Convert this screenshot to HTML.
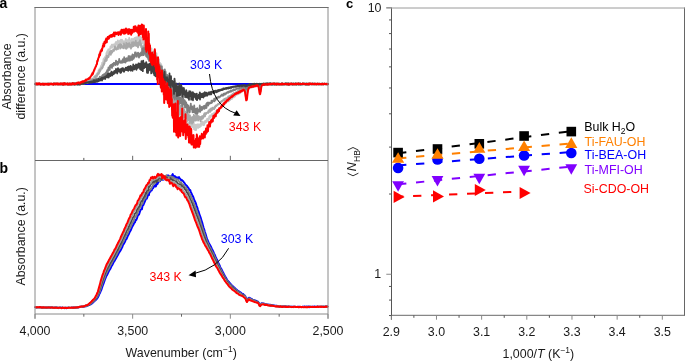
<!DOCTYPE html><html><head><meta charset="utf-8"><style>html,body{margin:0;padding:0;background:#fff;}svg{display:block;will-change:transform;}text{font-family:"Liberation Sans", sans-serif;}</style></head><body>
<svg width="685" height="361" viewBox="0 0 685 361">
<rect width="685" height="361" fill="#fff"/>
<g fill="none" stroke-linejoin="round" stroke-linecap="round">
<path d="M35.5,84.00L327.5,84.00" stroke="#0000ff" stroke-width="2"/>
<path d="M35.5,84.0L35.8,83.9 36.0,84.1 36.2,84.2 36.5,84.1 36.8,84.2 37.0,84.0 37.2,83.7 37.5,84.1 37.8,84.1 38.0,83.9 38.2,83.9 38.5,84.0 38.8,84.2 39.0,84.0 39.2,83.8 39.5,84.3 39.8,84.1 40.0,84.4 40.2,84.3 40.5,84.4 40.8,84.1 41.0,84.3 41.2,83.9 41.5,84.0 41.8,84.0 42.0,84.5 42.2,84.1 42.5,84.0 42.8,84.0 43.0,84.4 43.2,84.1 43.5,84.2 43.8,84.2 44.0,83.8 44.2,84.2 44.5,84.0 44.8,83.8 45.0,84.1 45.2,84.0 45.5,84.0 45.8,84.0 46.0,84.3 46.2,84.0 46.5,83.7 46.8,84.4 47.0,83.8 47.2,84.0 47.5,84.2 47.8,83.5 48.0,83.8 48.2,84.3 48.5,84.0 48.8,83.9 49.0,84.0 49.2,83.8 49.5,84.0 49.8,83.8 50.0,83.6 50.2,84.2 50.5,83.9 50.8,84.1 51.0,84.0 51.2,84.3 51.5,84.1 51.8,84.0 52.0,83.8 52.2,83.7 52.5,84.3 52.8,84.2 53.0,83.8 53.2,84.5 53.5,84.1 53.8,84.0 54.0,83.7 54.2,83.8 54.5,84.1 54.8,84.1 55.0,84.1 55.2,83.6 55.5,84.1 55.8,84.1 56.0,83.9 56.2,84.0 56.5,84.1 56.8,84.3 57.0,84.0 57.2,84.1 57.5,83.7 57.8,83.8 58.0,84.0 58.2,83.8 58.5,84.1 58.8,83.7 59.0,84.0 59.2,83.8 59.5,84.3 59.8,83.9 60.0,84.4 60.2,84.5 60.5,84.1 60.8,84.2 61.0,84.0 61.2,83.4 61.5,84.2 61.8,84.2 62.0,83.9 62.2,83.9 62.5,84.0 62.8,84.1 63.0,83.8 63.2,83.9 63.5,84.3 63.8,84.0 64.0,84.0 64.2,84.3 64.5,83.9 64.8,84.2 65.0,83.7 65.2,83.9 65.5,84.0 65.8,84.2 66.0,84.0 66.2,84.6 66.5,84.3 66.8,83.9 67.0,84.6 67.2,83.8 67.5,84.5 67.8,83.8 68.0,84.2 68.2,83.8 68.5,84.0 68.8,84.4 69.0,83.6 69.2,83.6 69.5,84.0 69.8,84.1 70.0,84.0 70.2,84.3 70.5,83.7 70.8,84.2 71.0,84.0 71.2,84.2 71.5,84.2 71.8,84.4 72.0,83.6 72.2,84.0 72.5,83.7 72.8,84.0 73.0,84.2 73.2,84.1 73.5,84.2 73.8,84.0 74.0,84.1 74.2,84.1 74.5,84.4 74.8,84.2 75.0,83.5 75.2,84.2 75.5,84.3 75.8,83.9 76.0,83.6 76.2,84.4 76.5,84.1 76.8,84.2 77.0,84.5 77.2,83.8 77.5,84.0 77.8,84.0 78.0,84.2 78.2,83.9 78.5,84.2 78.8,84.0 79.0,84.3 79.2,84.3 79.5,83.5 79.8,84.0 80.0,83.7 80.2,83.8 80.5,83.9 80.8,83.8 81.0,83.4 81.2,83.7 81.5,83.5 81.8,83.4 82.0,83.0 82.2,83.1 82.5,83.1 82.8,83.3 83.0,83.5 83.2,82.7 83.5,82.6 83.8,82.9 84.0,82.6 84.2,82.5 84.5,82.4 84.8,82.3 85.0,82.6 85.2,82.0 85.5,82.7 85.8,82.0 86.0,82.0 86.2,81.8 86.5,81.4 86.8,81.5 87.0,82.2 87.2,82.3 87.5,81.4 87.8,81.9 88.0,81.5 88.2,81.1 88.5,81.8 88.8,81.8 89.0,80.9 89.2,80.9 89.5,80.8 89.8,80.6 90.0,80.8 90.2,80.9 90.5,80.3 90.8,80.4 91.0,80.5 91.2,79.6 91.5,79.6 91.8,79.2 92.0,79.6 92.2,79.3 92.5,79.3 92.8,79.0 93.0,78.3 93.2,78.6 93.5,77.8 93.8,77.6 94.0,76.4 94.2,78.0 94.5,76.5 94.8,76.8 95.0,76.5 95.2,77.1 95.5,76.2 95.8,75.2 96.0,75.3 96.2,74.9 96.5,74.8 96.8,73.4 97.0,73.9 97.2,75.0 97.5,73.5 97.8,74.1 98.0,73.8 98.2,72.2 98.5,70.3 98.8,70.9 99.0,71.4 99.2,70.8 99.5,68.6 99.8,68.9 100.0,68.6 100.2,68.2 100.5,67.6 100.8,66.4 101.0,66.1 101.2,65.8 101.5,66.4 101.8,64.4 102.0,65.0 102.2,62.7 102.5,64.3 102.8,62.7 103.0,62.0 103.2,62.6 103.5,59.1 103.8,58.8 104.0,60.1 104.2,58.3 104.5,58.1 104.8,60.0 105.0,57.1 105.2,56.9 105.5,56.3 105.8,56.9 106.0,55.6 106.2,54.9 106.5,53.0 106.8,53.4 107.0,53.3 107.2,51.1 107.5,52.9 107.8,52.3 108.0,53.5 108.2,49.4 108.5,49.7 108.8,49.4 109.0,49.3 109.2,49.5 109.5,49.1 109.8,49.3 110.0,48.9 110.2,48.3 110.5,46.3 110.8,47.1 111.0,47.5 111.2,47.8 111.5,47.7 111.8,44.7 112.0,45.8 112.2,46.1 112.5,46.4 112.8,47.2 113.0,45.7 113.2,44.4 113.5,45.8 113.8,45.4 114.0,45.3 114.2,44.7 114.5,46.8 114.8,44.9 115.0,45.6 115.2,43.2 115.5,45.3 115.8,43.4 116.0,42.0 116.2,44.3 116.5,44.6 116.8,43.4 117.0,43.6 117.2,44.8 117.5,42.7 117.8,40.5 118.0,43.5 118.2,43.3 118.5,44.4 118.8,42.4 119.0,44.5 119.2,44.2 119.5,40.9 119.8,43.8 120.0,41.0 120.2,40.3 120.5,42.0 120.8,41.6 121.0,39.6 121.2,42.5 121.5,43.0 121.8,44.1 122.0,42.1 122.2,40.0 122.5,40.7 122.8,43.3 123.0,43.2 123.2,42.7 123.5,41.5 123.8,42.2 124.0,41.5 124.2,41.4 124.5,42.2 124.8,41.8 125.0,41.4 125.2,41.8 125.5,40.9 125.8,38.9 126.0,40.7 126.2,41.5 126.5,44.0 126.8,40.9 127.0,44.4 127.2,43.5 127.5,40.1 127.8,40.3 128.0,41.6 128.2,43.9 128.5,41.8 128.8,42.3 129.0,40.2 129.2,37.9 129.5,40.8 129.8,42.2 130.0,42.8 130.2,41.0 130.5,41.2 130.8,42.6 131.0,40.6 131.2,42.5 131.5,38.8 131.8,38.8 132.0,38.7 132.2,41.1 132.5,39.4 132.8,40.3 133.0,40.6 133.2,40.5 133.5,41.9 133.8,42.0 134.0,38.4 134.2,39.9 134.5,39.1 134.8,37.8 135.0,42.1 135.2,40.5 135.5,38.9 135.8,38.5 136.0,39.7 136.2,37.2 136.5,38.6 136.8,41.2 137.0,40.7 137.2,37.5 137.5,38.1 137.8,42.7 138.0,36.5 138.2,38.0 138.5,36.5 138.8,40.0 139.0,39.9 139.2,41.7 139.5,35.0 139.8,39.9 140.0,36.2 140.2,41.1 140.5,39.5 140.8,43.7 141.0,40.9 141.2,37.8 141.5,43.1 141.8,37.8 142.0,39.7 142.2,43.2 142.5,42.0 142.8,42.1 143.0,41.3 143.2,42.8 143.5,43.7 143.8,42.6 144.0,44.7 144.2,45.7 144.5,42.6 144.8,40.4 145.0,47.1 145.2,43.2 145.5,45.3 145.8,46.5 146.0,41.7 146.2,45.9 146.5,40.5 146.8,47.3 147.0,44.3 147.2,46.5 147.5,48.4 147.8,44.8 148.0,47.4 148.2,45.5 148.5,47.8 148.8,51.5 149.0,48.8 149.2,48.7 149.5,46.2 149.8,52.5 150.0,50.1 150.2,56.0 150.5,48.6 150.8,54.7 151.0,57.6 151.2,52.1 151.5,48.5 151.8,57.9 152.0,56.8 152.2,56.1 152.5,57.8 152.8,52.9 153.0,57.6 153.2,57.7 153.5,53.4 153.8,58.7 154.0,54.7 154.2,60.3 154.5,61.7 154.8,64.5 155.0,51.0 155.2,59.6 155.5,57.9 155.8,59.4 156.0,59.1 156.2,59.9 156.5,53.2 156.8,65.0 157.0,67.4 157.2,65.7 157.5,67.5 157.8,59.7 158.0,59.9 158.2,67.4 158.5,69.5 158.8,65.9 159.0,59.4 159.2,73.9 159.5,63.8 159.8,70.8 160.0,62.8 160.2,71.9 160.5,69.3 160.8,74.9 161.0,73.3 161.2,64.2 161.5,67.2 161.8,72.9 162.0,75.5 162.2,80.4 162.5,74.9 162.8,74.0 163.0,74.9 163.2,75.7 163.5,80.7 163.8,76.9 164.0,77.5 164.2,72.5 164.5,70.7 164.8,79.9 165.0,83.3 165.2,80.9 165.5,83.9 165.8,85.1 166.0,82.9 166.2,87.7 166.5,81.3 166.8,85.0 167.0,84.1 167.2,86.6 167.5,89.5 167.8,91.1 168.0,88.8 168.2,90.7 168.5,88.1 168.8,89.8 169.0,96.0 169.2,90.8 169.5,97.2 169.8,94.9 170.0,94.2 170.2,102.0 170.5,93.9 170.8,94.4 171.0,96.3 171.2,98.0 171.5,98.5 171.8,101.5 172.0,99.4 172.2,101.1 172.5,99.3 172.8,105.0 173.0,100.0 173.2,101.1 173.5,102.8 173.8,104.6 174.0,101.4 174.2,110.5 174.5,103.0 174.8,104.5 175.0,104.9 175.2,105.2 175.5,109.6 175.8,108.8 176.0,106.1 176.2,107.4 176.5,108.9 176.8,115.8 177.0,108.9 177.2,107.2 177.5,108.4 177.8,111.8 178.0,118.7 178.2,110.4 178.5,114.8 178.8,122.1 179.0,113.9 179.2,120.9 179.5,120.6 179.8,118.8 180.0,112.7 180.2,118.6 180.5,116.8 180.8,112.3 181.0,113.2 181.2,119.2 181.5,120.0 181.8,123.6 182.0,122.1 182.2,118.8 182.5,119.2 182.8,120.4 183.0,117.9 183.2,123.8 183.5,121.8 183.8,119.6 184.0,120.3 184.2,119.1 184.5,121.4 184.8,123.7 185.0,121.9 185.2,126.2 185.5,128.3 185.8,121.9 186.0,123.9 186.2,123.1 186.5,129.1 186.8,125.4 187.0,126.2 187.2,127.1 187.5,130.7 187.8,125.9 188.0,122.6 188.2,124.2 188.5,127.0 188.8,125.5 189.0,123.6 189.2,131.3 189.5,126.2 189.8,124.5 190.0,124.2 190.2,121.7 190.5,123.3 190.8,125.4 191.0,125.5 191.2,124.4 191.5,127.8 191.8,126.6 192.0,124.4 192.2,121.9 192.5,127.1 192.8,126.9 193.0,126.3 193.2,123.7 193.5,126.9 193.8,123.6 194.0,129.1 194.2,127.4 194.5,127.4 194.8,125.3 195.0,124.7 195.2,130.2 195.5,128.9 195.8,126.2 196.0,128.3 196.2,130.0 196.5,124.7 196.8,125.8 197.0,125.7 197.2,127.5 197.5,124.5 197.8,126.9 198.0,124.2 198.2,127.9 198.5,127.7 198.8,125.7 199.0,127.2 199.2,124.6 199.5,125.3 199.8,127.2 200.0,125.4 200.2,126.0 200.5,123.7 200.8,126.2 201.0,125.7 201.2,122.9 201.5,121.3 201.8,121.4 202.0,124.2 202.2,123.8 202.5,121.7 202.8,124.0 203.0,125.0 203.2,123.2 203.5,122.6 203.8,124.2 204.0,125.1 204.2,124.6 204.5,121.5 204.8,123.2 205.0,122.2 205.2,121.5 205.5,120.8 205.8,121.8 206.0,120.6 206.2,122.0 206.5,121.2 206.8,121.7 207.0,119.0 207.2,120.1 207.5,120.6 207.8,120.0 208.0,119.6 208.2,118.4 208.5,120.5 208.8,119.7 209.0,118.8 209.2,116.3 209.5,117.1 209.8,117.8 210.0,116.9 210.2,115.5 210.5,117.2 210.8,117.1 211.0,115.5 211.2,115.9 211.5,115.5 211.8,116.2 212.0,114.0 212.2,113.9 212.5,114.6 212.8,114.2 213.0,116.0 213.2,113.8 213.5,114.1 213.8,113.4 214.0,113.0 214.2,113.5 214.5,114.1 214.8,112.5 215.0,113.0 215.2,112.5 215.5,112.4 215.8,112.0 216.0,112.8 216.2,110.6 216.5,111.0 216.8,110.3 217.0,109.6 217.2,110.4 217.5,111.2 217.8,110.5 218.0,110.4 218.2,109.8 218.5,109.3 218.8,110.1 219.0,108.7 219.2,109.4 219.5,108.3 219.8,108.3 220.0,108.1 220.2,107.8 220.5,107.8 220.8,107.6 221.0,107.8 221.2,106.9 221.5,105.8 221.8,105.6 222.0,105.6 222.2,105.6 222.5,106.0 222.8,104.9 223.0,105.3 223.2,105.1 223.5,104.9 223.8,104.5 224.0,104.6 224.2,104.2 224.5,104.4 224.8,103.9 225.0,102.6 225.2,103.3 225.5,103.2 225.8,102.6 226.0,102.4 226.2,102.9 226.5,102.3 226.8,101.7 227.0,101.7 227.2,101.6 227.5,100.8 227.8,101.5 228.0,101.0 228.2,101.1 228.5,100.0 228.8,101.3 229.0,100.5 229.2,100.3 229.5,99.6 229.8,99.4 230.0,98.9 230.2,100.0 230.5,98.8 230.8,99.0 231.0,99.0 231.2,98.3 231.5,98.7 231.8,99.0 232.0,98.1 232.2,98.4 232.5,97.9 232.8,97.3 233.0,97.1 233.2,96.4 233.5,97.0 233.8,97.3 234.0,96.8 234.2,96.7 234.5,96.6 234.8,95.8 235.0,96.1 235.2,96.4 235.5,95.2 235.8,95.3 236.0,95.0 236.2,94.9 236.5,94.5 236.8,94.6 237.0,93.9 237.2,94.1 237.5,93.9 237.8,93.8 238.0,94.3 238.2,93.7 238.5,93.5 238.8,93.2 239.0,93.7 239.2,92.3 239.5,92.8 239.8,93.1 240.0,93.2 240.2,92.5 240.5,92.2 240.8,92.3 241.0,91.8 241.2,92.0 241.5,91.4 241.8,91.7 242.0,91.3 242.2,90.7 242.5,90.2 242.8,91.2 243.0,90.9 243.2,90.9 243.5,90.1 243.8,90.7 244.0,90.4 244.2,90.3 244.5,90.7 244.8,91.0 245.0,91.3 245.2,92.6 245.5,93.1 245.8,93.6 246.0,94.2 246.2,94.8 246.5,95.6 246.8,94.7 247.0,93.5 247.2,92.6 247.5,91.7 247.8,91.0 248.0,89.5 248.2,89.2 248.5,89.0 248.8,88.5 249.0,87.4 249.2,87.7 249.5,87.3 249.8,87.8 250.0,87.2 250.2,87.6 250.5,87.4 250.8,86.5 251.0,86.9 251.2,87.3 251.5,87.1 251.8,86.9 252.0,86.5 252.2,87.0 252.5,87.4 252.8,86.8 253.0,86.6 253.2,86.5 253.5,86.0 253.8,86.3 254.0,86.1 254.2,86.7 254.5,86.0 254.8,85.5 255.0,85.9 255.2,86.0 255.5,86.0 255.8,85.4 256.0,86.3 256.2,85.9 256.5,85.7 256.8,85.5 257.0,85.9 257.2,85.6 257.5,85.8 257.8,85.6 258.0,85.8 258.2,86.3 258.5,86.1 258.8,86.3 259.0,87.5 259.2,88.0 259.5,88.3 259.8,89.4 260.0,89.1 260.2,89.3 260.5,88.0 260.8,86.9 261.0,86.2 261.2,86.3 261.5,85.4 261.8,85.2 262.0,85.0 262.2,84.4 262.5,85.3 262.8,84.4 263.0,84.7 263.2,84.2 263.5,84.6 263.8,84.8 264.0,84.5 264.2,84.3 264.5,84.5 264.8,84.3 265.0,84.6 265.2,85.1 265.5,84.0 265.8,84.1 266.0,84.2 266.2,84.2 266.5,83.9 266.8,84.3 267.0,84.4 267.2,84.2 267.5,83.7 267.8,84.6 268.0,83.7 268.2,84.3 268.5,84.4 268.8,83.6 269.0,84.1 269.2,84.4 269.5,84.1 269.8,83.7 270.0,83.6 270.2,84.1 270.5,83.9 270.8,83.8 271.0,84.2 271.2,83.9 271.5,84.0 271.8,84.2 272.0,84.2 272.2,84.0 272.5,84.0 272.8,84.2 273.0,84.1 273.2,83.6 273.5,83.9 273.8,83.7 274.0,83.6 274.2,83.8 274.5,83.3 274.8,84.3 275.0,83.7 275.2,84.1 275.5,83.4 275.8,83.5 276.0,84.6 276.2,84.3 276.5,83.8 276.8,83.7 277.0,83.8 277.2,84.0 277.5,83.9 277.8,83.8 278.0,84.0 278.2,83.7 278.5,84.7 278.8,83.8 279.0,84.3 279.2,83.7 279.5,84.1 279.8,84.3 280.0,83.9 280.2,84.3 280.5,84.3 280.8,84.5 281.0,84.0 281.2,83.8 281.5,83.7 281.8,84.0 282.0,83.7 282.2,84.0 282.5,84.0 282.8,83.8 283.0,83.7 283.2,84.1 283.5,84.1 283.8,84.0 284.0,84.0 284.2,84.3 284.5,83.7 284.8,84.1 285.0,83.9 285.2,84.2 285.5,83.9 285.8,83.9 286.0,84.1 286.2,83.4 286.5,83.9 286.8,83.5 287.0,83.7 287.2,84.2 287.5,84.1 287.8,83.9 288.0,84.0 288.2,84.0 288.5,84.1 288.8,84.5 289.0,84.1 289.2,84.6 289.5,83.9 289.8,84.2 290.0,84.2 290.2,84.1 290.5,83.9 290.8,84.4 291.0,84.5 291.2,84.3 291.5,84.6 291.8,84.3 292.0,83.5 292.2,84.3 292.5,83.8 292.8,84.4 293.0,83.9 293.2,84.1 293.5,84.0 293.8,83.8 294.0,83.5 294.2,83.9 294.5,84.0 294.8,84.3 295.0,83.8 295.2,84.1 295.5,83.8 295.8,84.0 296.0,83.5 296.2,84.6 296.5,84.1 296.8,83.8 297.0,84.1 297.2,84.2 297.5,84.1 297.8,84.4 298.0,84.0 298.2,83.4 298.5,83.7 298.8,84.3 299.0,84.2 299.2,84.1 299.5,83.7 299.8,84.2 300.0,84.2 300.2,83.8 300.5,83.8 300.8,84.1 301.0,84.3 301.2,84.4 301.5,84.2 301.8,84.6 302.0,83.8 302.2,84.2 302.5,83.9 302.8,83.5 303.0,83.7 303.2,84.3 303.5,83.8 303.8,83.7 304.0,84.2 304.2,84.3 304.5,84.0 304.8,84.4 305.0,83.6 305.2,84.5 305.5,84.3 305.8,84.1 306.0,84.1 306.2,84.0 306.5,83.9 306.8,84.1 307.0,83.7 307.2,84.5 307.5,84.0 307.8,84.2 308.0,84.0 308.2,83.9 308.5,84.2 308.8,84.2 309.0,83.8 309.2,83.9 309.5,84.2 309.8,83.5 310.0,83.5 310.2,84.4 310.5,83.9 310.8,83.5 311.0,83.8 311.2,83.9 311.5,84.1 311.8,84.1 312.0,84.1 312.2,84.1 312.5,83.8 312.8,84.1 313.0,84.1 313.2,84.3 313.5,84.0 313.8,84.2 314.0,84.0 314.2,83.7 314.5,83.9 314.8,83.9 315.0,83.9 315.2,84.0 315.5,84.0 315.8,84.1 316.0,83.8 316.2,84.3 316.5,83.7 316.8,84.0 317.0,84.2 317.2,84.1 317.5,84.2 317.8,84.0 318.0,84.2 318.2,83.7 318.5,84.2 318.8,84.5 319.0,84.2 319.2,84.5 319.5,84.0 319.8,83.8 320.0,83.8 320.2,84.3 320.5,84.2 320.8,83.6 321.0,83.9 321.2,84.0 321.5,83.8 321.8,83.5 322.0,83.7 322.2,84.0 322.5,83.9 322.8,83.9 323.0,84.1 323.2,84.2 323.5,84.0 323.8,84.2 324.0,84.0 324.2,84.0 324.5,83.5 324.8,84.2 325.0,84.0 325.2,84.0 325.5,83.9 325.8,83.8 326.0,84.1 326.2,84.2 326.5,84.4 326.8,84.2 327.0,83.9 327.2,84.0 327.5,84.2 327.8,84.1" stroke="#c8c8c8" stroke-width="1.8"/>
<path d="M35.5,84.0L35.8,83.9 36.0,84.1 36.2,84.1 36.5,84.4 36.8,84.3 37.0,83.6 37.2,84.5 37.5,84.1 37.8,84.0 38.0,84.1 38.2,84.2 38.5,84.0 38.8,84.0 39.0,84.0 39.2,84.4 39.5,84.0 39.8,84.2 40.0,84.1 40.2,83.9 40.5,83.9 40.8,83.8 41.0,84.1 41.2,83.8 41.5,83.7 41.8,83.7 42.0,83.7 42.2,84.0 42.5,84.0 42.8,83.8 43.0,84.3 43.2,84.0 43.5,84.1 43.8,84.1 44.0,84.4 44.2,84.2 44.5,84.0 44.8,83.8 45.0,83.8 45.2,84.0 45.5,84.0 45.8,84.2 46.0,83.9 46.2,84.1 46.5,83.9 46.8,83.6 47.0,84.0 47.2,84.4 47.5,84.2 47.8,84.4 48.0,84.3 48.2,83.7 48.5,83.9 48.8,84.4 49.0,83.8 49.2,83.7 49.5,84.1 49.8,84.2 50.0,84.1 50.2,83.9 50.5,83.8 50.8,83.7 51.0,83.7 51.2,83.7 51.5,83.7 51.8,83.8 52.0,84.4 52.2,84.0 52.5,83.9 52.8,84.1 53.0,83.8 53.2,84.1 53.5,84.2 53.8,83.6 54.0,83.8 54.2,83.9 54.5,83.8 54.8,83.7 55.0,83.9 55.2,84.5 55.5,84.2 55.8,84.1 56.0,84.3 56.2,83.9 56.5,83.7 56.8,84.1 57.0,84.3 57.2,83.5 57.5,84.1 57.8,84.3 58.0,83.9 58.2,83.9 58.5,84.2 58.8,83.8 59.0,84.1 59.2,84.2 59.5,84.0 59.8,83.8 60.0,84.2 60.2,83.9 60.5,84.0 60.8,83.4 61.0,84.2 61.2,83.6 61.5,84.0 61.8,84.0 62.0,83.8 62.2,83.8 62.5,83.7 62.8,83.9 63.0,84.2 63.2,84.1 63.5,83.9 63.8,83.8 64.0,83.6 64.2,83.9 64.5,83.7 64.8,83.6 65.0,84.0 65.2,84.4 65.5,84.3 65.8,84.4 66.0,83.6 66.2,84.2 66.5,83.7 66.8,83.8 67.0,83.5 67.2,83.7 67.5,84.0 67.8,84.1 68.0,84.0 68.2,84.0 68.5,84.1 68.8,84.0 69.0,83.5 69.2,84.5 69.5,83.9 69.8,84.3 70.0,83.9 70.2,83.8 70.5,84.0 70.8,83.8 71.0,84.5 71.2,83.7 71.5,84.2 71.8,83.8 72.0,83.9 72.2,84.6 72.5,84.2 72.8,83.9 73.0,83.5 73.2,83.9 73.5,83.9 73.8,84.4 74.0,83.6 74.2,83.5 74.5,84.0 74.8,84.1 75.0,84.5 75.2,83.7 75.5,83.4 75.8,83.8 76.0,83.6 76.2,83.8 76.5,84.3 76.8,83.6 77.0,84.4 77.2,84.1 77.5,83.9 77.8,83.7 78.0,83.9 78.2,83.9 78.5,84.2 78.8,84.4 79.0,83.9 79.2,84.2 79.5,84.3 79.8,84.3 80.0,84.0 80.2,84.4 80.5,84.2 80.8,84.2 81.0,83.6 81.2,83.5 81.5,82.9 81.8,84.0 82.0,83.7 82.2,83.1 82.5,83.4 82.8,83.4 83.0,82.7 83.2,83.2 83.5,83.4 83.8,83.4 84.0,82.8 84.2,82.8 84.5,83.3 84.8,83.1 85.0,82.5 85.2,82.5 85.5,82.8 85.8,82.3 86.0,82.3 86.2,82.9 86.5,82.4 86.8,82.1 87.0,82.3 87.2,82.7 87.5,82.1 87.8,81.7 88.0,81.3 88.2,82.4 88.5,81.0 88.8,81.9 89.0,81.1 89.2,80.9 89.5,80.9 89.8,81.1 90.0,81.4 90.2,80.7 90.5,81.0 90.8,81.4 91.0,79.7 91.2,80.1 91.5,79.5 91.8,80.4 92.0,79.2 92.2,79.0 92.5,78.8 92.8,79.4 93.0,79.8 93.2,79.1 93.5,79.9 93.8,79.5 94.0,78.3 94.2,78.7 94.5,78.0 94.8,77.8 95.0,76.4 95.2,76.5 95.5,77.0 95.8,76.0 96.0,77.0 96.2,76.4 96.5,75.3 96.8,76.5 97.0,75.5 97.2,75.9 97.5,74.6 97.8,73.1 98.0,74.5 98.2,73.4 98.5,74.0 98.8,73.8 99.0,73.5 99.2,70.9 99.5,70.0 99.8,71.0 100.0,71.6 100.2,70.0 100.5,70.5 100.8,69.1 101.0,69.1 101.2,68.6 101.5,67.8 101.8,68.5 102.0,67.8 102.2,68.5 102.5,66.9 102.8,67.3 103.0,65.6 103.2,65.9 103.5,64.3 103.8,63.5 104.0,64.8 104.2,63.7 104.5,63.4 104.8,61.2 105.0,59.8 105.2,60.2 105.5,60.9 105.8,58.5 106.0,61.1 106.2,57.5 106.5,59.3 106.8,60.3 107.0,55.4 107.2,55.5 107.5,57.9 107.8,56.2 108.0,56.2 108.2,55.5 108.5,57.0 108.8,55.8 109.0,54.2 109.2,54.1 109.5,52.7 109.8,53.7 110.0,51.1 110.2,54.1 110.5,52.7 110.8,54.9 111.0,53.9 111.2,50.6 111.5,53.1 111.8,51.1 112.0,51.5 112.2,52.5 112.5,51.4 112.8,51.4 113.0,51.1 113.2,49.4 113.5,49.3 113.8,50.6 114.0,50.8 114.2,49.1 114.5,49.4 114.8,47.8 115.0,46.3 115.2,47.8 115.5,48.8 115.8,48.8 116.0,49.6 116.2,49.5 116.5,49.6 116.8,48.6 117.0,48.6 117.2,46.9 117.5,48.3 117.8,48.0 118.0,49.2 118.2,45.3 118.5,46.7 118.8,44.9 119.0,46.2 119.2,45.2 119.5,47.5 119.8,46.1 120.0,44.1 120.2,48.6 120.5,45.3 120.8,44.5 121.0,46.2 121.2,45.7 121.5,44.9 121.8,47.6 122.0,46.0 122.2,47.8 122.5,47.5 122.8,47.4 123.0,46.7 123.2,46.2 123.5,45.7 123.8,48.4 124.0,43.4 124.2,44.6 124.5,45.2 124.8,46.7 125.0,46.3 125.2,45.3 125.5,45.5 125.8,48.6 126.0,44.9 126.2,42.9 126.5,48.8 126.8,44.5 127.0,45.4 127.2,46.1 127.5,43.8 127.8,47.7 128.0,45.6 128.2,43.5 128.5,46.0 128.8,46.4 129.0,45.5 129.2,46.3 129.5,43.2 129.8,47.0 130.0,44.1 130.2,47.4 130.5,44.3 130.8,45.5 131.0,48.6 131.2,45.2 131.5,46.9 131.8,45.8 132.0,42.5 132.2,46.8 132.5,46.6 132.8,42.5 133.0,44.5 133.2,42.1 133.5,44.1 133.8,46.0 134.0,44.6 134.2,42.4 134.5,42.8 134.8,44.3 135.0,44.1 135.2,44.4 135.5,45.1 135.8,40.7 136.0,44.0 136.2,46.1 136.5,44.9 136.8,42.7 137.0,42.8 137.2,44.3 137.5,45.3 137.8,44.0 138.0,47.4 138.2,46.8 138.5,42.5 138.8,45.2 139.0,43.5 139.2,41.8 139.5,43.1 139.8,44.5 140.0,40.1 140.2,43.2 140.5,45.6 140.8,43.2 141.0,44.0 141.2,47.1 141.5,45.0 141.8,45.8 142.0,50.3 142.2,46.1 142.5,46.6 142.8,47.1 143.0,50.4 143.2,47.4 143.5,46.7 143.8,46.6 144.0,50.1 144.2,45.6 144.5,50.8 144.8,48.4 145.0,44.4 145.2,50.2 145.5,49.9 145.8,45.7 146.0,50.1 146.2,50.1 146.5,48.9 146.8,46.7 147.0,56.3 147.2,53.0 147.5,53.8 147.8,54.4 148.0,54.1 148.2,54.3 148.5,51.1 148.8,55.2 149.0,52.3 149.2,51.7 149.5,55.7 149.8,53.2 150.0,48.6 150.2,53.2 150.5,56.8 150.8,55.2 151.0,58.5 151.2,54.7 151.5,53.0 151.8,59.2 152.0,57.4 152.2,53.1 152.5,59.2 152.8,57.0 153.0,61.8 153.2,61.4 153.5,60.7 153.8,51.5 154.0,61.0 154.2,61.8 154.5,62.4 154.8,61.2 155.0,58.5 155.2,60.7 155.5,53.9 155.8,61.3 156.0,57.0 156.2,61.8 156.5,60.9 156.8,69.2 157.0,64.5 157.2,64.7 157.5,65.8 157.8,73.5 158.0,62.1 158.2,67.6 158.5,68.2 158.8,67.9 159.0,68.2 159.2,66.1 159.5,73.2 159.8,72.3 160.0,67.8 160.2,68.9 160.5,71.4 160.8,72.7 161.0,74.3 161.2,71.6 161.5,67.0 161.8,76.7 162.0,66.5 162.2,69.8 162.5,75.8 162.8,71.1 163.0,81.1 163.2,82.7 163.5,81.4 163.8,78.2 164.0,78.4 164.2,79.7 164.5,77.6 164.8,87.5 165.0,76.9 165.2,85.6 165.5,82.8 165.8,82.3 166.0,85.9 166.2,87.3 166.5,86.3 166.8,82.6 167.0,80.5 167.2,81.1 167.5,88.2 167.8,87.8 168.0,88.8 168.2,83.6 168.5,94.4 168.8,81.4 169.0,89.0 169.2,90.7 169.5,86.6 169.8,84.3 170.0,87.6 170.2,85.3 170.5,89.5 170.8,85.6 171.0,86.0 171.2,91.9 171.5,86.3 171.8,91.8 172.0,92.7 172.2,97.1 172.5,95.1 172.8,91.5 173.0,100.1 173.2,93.0 173.5,94.7 173.8,95.4 174.0,105.1 174.2,97.9 174.5,95.5 174.8,101.4 175.0,98.7 175.2,107.4 175.5,97.5 175.8,103.0 176.0,97.9 176.2,108.4 176.5,99.6 176.8,103.6 177.0,100.3 177.2,107.2 177.5,106.6 177.8,97.4 178.0,108.4 178.2,108.4 178.5,107.4 178.8,110.5 179.0,103.2 179.2,101.8 179.5,110.7 179.8,114.5 180.0,105.0 180.2,105.6 180.5,106.9 180.8,106.2 181.0,113.2 181.2,111.2 181.5,115.5 181.8,115.9 182.0,108.4 182.2,114.0 182.5,105.4 182.8,112.1 183.0,114.7 183.2,110.4 183.5,107.5 183.8,111.9 184.0,117.4 184.2,112.7 184.5,109.9 184.8,115.8 185.0,116.8 185.2,111.7 185.5,114.5 185.8,118.4 186.0,116.5 186.2,117.8 186.5,114.9 186.8,115.7 187.0,112.9 187.2,114.4 187.5,121.0 187.8,115.6 188.0,114.5 188.2,115.9 188.5,114.5 188.8,118.9 189.0,120.1 189.2,115.2 189.5,120.6 189.8,123.4 190.0,115.3 190.2,119.9 190.5,118.9 190.8,121.8 191.0,121.6 191.2,121.2 191.5,119.3 191.8,117.6 192.0,123.7 192.2,116.8 192.5,121.5 192.8,121.3 193.0,117.2 193.2,119.0 193.5,122.4 193.8,114.7 194.0,120.9 194.2,118.4 194.5,118.5 194.8,115.9 195.0,120.0 195.2,116.8 195.5,120.6 195.8,116.6 196.0,120.5 196.2,119.7 196.5,115.0 196.8,118.2 197.0,118.6 197.2,114.6 197.5,118.0 197.8,120.2 198.0,117.2 198.2,120.7 198.5,116.3 198.8,116.2 199.0,119.3 199.2,119.3 199.5,117.8 199.8,118.1 200.0,119.7 200.2,116.9 200.5,121.3 200.8,118.4 201.0,118.3 201.2,117.9 201.5,116.9 201.8,119.1 202.0,116.1 202.2,117.2 202.5,117.7 202.8,118.6 203.0,118.1 203.2,115.7 203.5,117.4 203.8,115.8 204.0,114.2 204.2,114.1 204.5,113.3 204.8,115.6 205.0,116.4 205.2,113.5 205.5,114.3 205.8,113.1 206.0,114.3 206.2,112.7 206.5,112.9 206.8,112.9 207.0,112.9 207.2,112.8 207.5,112.8 207.8,112.6 208.0,111.6 208.2,113.0 208.5,110.5 208.8,112.1 209.0,110.9 209.2,111.7 209.5,111.6 209.8,109.4 210.0,111.3 210.2,111.9 210.5,111.2 210.8,110.7 211.0,108.5 211.2,109.8 211.5,109.1 211.8,110.4 212.0,109.1 212.2,108.7 212.5,107.6 212.8,109.3 213.0,108.2 213.2,108.2 213.5,108.9 213.8,108.0 214.0,108.0 214.2,109.0 214.5,107.0 214.8,106.8 215.0,107.3 215.2,107.7 215.5,105.7 215.8,106.2 216.0,105.6 216.2,105.2 216.5,106.1 216.8,105.1 217.0,105.5 217.2,105.2 217.5,105.0 217.8,104.8 218.0,104.0 218.2,104.3 218.5,104.3 218.8,104.1 219.0,103.6 219.2,104.0 219.5,103.6 219.8,103.2 220.0,103.2 220.2,102.9 220.5,102.9 220.8,101.6 221.0,101.7 221.2,101.9 221.5,101.9 221.8,100.8 222.0,101.3 222.2,101.3 222.5,101.0 222.8,100.8 223.0,100.1 223.2,100.6 223.5,99.5 223.8,100.6 224.0,99.7 224.2,100.3 224.5,98.9 224.8,99.6 225.0,99.3 225.2,98.7 225.5,98.4 225.8,99.2 226.0,98.8 226.2,99.0 226.5,98.2 226.8,98.1 227.0,98.1 227.2,98.1 227.5,97.8 227.8,97.8 228.0,97.1 228.2,96.5 228.5,97.8 228.8,96.8 229.0,96.8 229.2,96.3 229.5,96.7 229.8,96.2 230.0,96.4 230.2,95.6 230.5,95.6 230.8,95.6 231.0,95.2 231.2,95.3 231.5,95.7 231.8,94.7 232.0,94.6 232.2,94.7 232.5,94.1 232.8,93.8 233.0,94.6 233.2,94.3 233.5,93.2 233.8,93.1 234.0,93.9 234.2,93.9 234.5,93.5 234.8,93.3 235.0,93.6 235.2,92.8 235.5,93.2 235.8,93.1 236.0,92.1 236.2,92.6 236.5,92.2 236.8,91.8 237.0,91.6 237.2,91.9 237.5,91.6 237.8,91.8 238.0,90.6 238.2,90.9 238.5,91.5 238.8,90.9 239.0,90.5 239.2,90.5 239.5,89.8 239.8,89.9 240.0,90.5 240.2,90.2 240.5,90.6 240.8,89.8 241.0,89.7 241.2,88.9 241.5,89.5 241.8,90.2 242.0,89.6 242.2,89.2 242.5,89.6 242.8,89.3 243.0,89.0 243.2,88.6 243.5,88.7 243.8,88.9 244.0,88.2 244.2,88.7 244.5,88.8 244.8,89.4 245.0,89.5 245.2,89.6 245.5,91.1 245.8,91.3 246.0,91.6 246.2,92.5 246.5,92.4 246.8,92.6 247.0,91.1 247.2,90.3 247.5,89.7 247.8,89.6 248.0,88.6 248.2,87.3 248.5,86.6 248.8,86.8 249.0,86.3 249.2,86.9 249.5,86.6 249.8,86.5 250.0,86.2 250.2,86.9 250.5,85.9 250.8,85.7 251.0,86.6 251.2,86.6 251.5,85.9 251.8,86.3 252.0,86.7 252.2,85.6 252.5,85.8 252.8,86.0 253.0,85.0 253.2,85.7 253.5,85.9 253.8,85.6 254.0,85.9 254.2,85.8 254.5,85.3 254.8,85.6 255.0,85.5 255.2,84.7 255.5,85.0 255.8,85.0 256.0,85.0 256.2,85.0 256.5,84.6 256.8,85.1 257.0,84.4 257.2,85.4 257.5,85.1 257.8,85.5 258.0,85.2 258.2,85.0 258.5,84.9 258.8,86.0 259.0,86.2 259.2,86.8 259.5,87.5 259.8,88.0 260.0,87.7 260.2,88.1 260.5,87.1 260.8,86.6 261.0,86.2 261.2,85.8 261.5,85.6 261.8,84.1 262.0,85.1 262.2,84.0 262.5,84.3 262.8,84.6 263.0,84.8 263.2,84.0 263.5,83.8 263.8,84.7 264.0,84.4 264.2,83.9 264.5,84.2 264.8,83.6 265.0,84.4 265.2,84.0 265.5,84.6 265.8,83.5 266.0,84.4 266.2,84.8 266.5,84.2 266.8,84.2 267.0,83.4 267.2,84.2 267.5,84.1 267.8,83.9 268.0,83.5 268.2,84.1 268.5,83.7 268.8,83.8 269.0,84.1 269.2,84.0 269.5,84.0 269.8,84.3 270.0,83.6 270.2,84.5 270.5,83.6 270.8,83.7 271.0,84.0 271.2,84.3 271.5,84.1 271.8,83.8 272.0,83.8 272.2,83.9 272.5,83.7 272.8,84.2 273.0,83.9 273.2,84.5 273.5,83.8 273.8,84.0 274.0,84.1 274.2,83.6 274.5,83.8 274.8,84.7 275.0,84.0 275.2,84.5 275.5,83.7 275.8,83.3 276.0,84.2 276.2,84.0 276.5,84.1 276.8,83.9 277.0,83.8 277.2,83.6 277.5,84.3 277.8,83.5 278.0,84.3 278.2,83.9 278.5,83.6 278.8,83.8 279.0,84.3 279.2,84.2 279.5,84.1 279.8,84.0 280.0,83.6 280.2,84.4 280.5,83.9 280.8,83.8 281.0,83.8 281.2,83.9 281.5,83.5 281.8,83.8 282.0,83.7 282.2,83.8 282.5,83.4 282.8,84.6 283.0,83.6 283.2,84.1 283.5,84.1 283.8,84.3 284.0,84.6 284.2,84.1 284.5,84.2 284.8,83.9 285.0,84.4 285.2,83.6 285.5,83.9 285.8,84.1 286.0,84.2 286.2,84.2 286.5,84.3 286.8,84.2 287.0,84.0 287.2,84.1 287.5,84.4 287.8,84.1 288.0,84.3 288.2,84.0 288.5,83.4 288.8,83.8 289.0,84.1 289.2,84.5 289.5,84.4 289.8,84.5 290.0,83.8 290.2,84.2 290.5,84.0 290.8,84.2 291.0,84.0 291.2,83.6 291.5,84.2 291.8,84.1 292.0,84.2 292.2,83.7 292.5,84.3 292.8,84.3 293.0,84.4 293.2,84.4 293.5,83.9 293.8,83.4 294.0,84.3 294.2,83.7 294.5,83.9 294.8,84.3 295.0,84.1 295.2,84.1 295.5,84.2 295.8,83.5 296.0,84.5 296.2,83.9 296.5,83.9 296.8,84.2 297.0,84.0 297.2,83.8 297.5,84.0 297.8,83.9 298.0,83.8 298.2,84.6 298.5,83.6 298.8,83.4 299.0,83.7 299.2,83.7 299.5,84.4 299.8,84.0 300.0,84.2 300.2,84.2 300.5,83.7 300.8,84.2 301.0,84.0 301.2,84.5 301.5,84.0 301.8,84.0 302.0,84.2 302.2,84.2 302.5,83.5 302.8,84.3 303.0,84.3 303.2,84.2 303.5,83.7 303.8,83.4 304.0,83.9 304.2,84.2 304.5,84.1 304.8,83.7 305.0,84.2 305.2,83.6 305.5,83.6 305.8,84.0 306.0,83.8 306.2,83.8 306.5,83.6 306.8,84.3 307.0,83.7 307.2,84.1 307.5,84.2 307.8,84.0 308.0,84.1 308.2,84.3 308.5,84.4 308.8,84.2 309.0,83.6 309.2,83.5 309.5,83.8 309.8,83.7 310.0,84.1 310.2,84.0 310.5,83.9 310.8,84.3 311.0,84.2 311.2,84.0 311.5,84.1 311.8,84.3 312.0,83.9 312.2,84.1 312.5,83.7 312.8,84.0 313.0,84.1 313.2,84.0 313.5,84.0 313.8,84.2 314.0,84.1 314.2,83.8 314.5,83.8 314.8,83.7 315.0,84.4 315.2,84.1 315.5,84.1 315.8,84.0 316.0,84.1 316.2,84.1 316.5,83.8 316.8,84.0 317.0,84.3 317.2,83.7 317.5,83.8 317.8,84.1 318.0,83.8 318.2,84.2 318.5,83.7 318.8,84.1 319.0,84.2 319.2,84.1 319.5,84.2 319.8,84.0 320.0,84.0 320.2,84.0 320.5,84.1 320.8,84.5 321.0,84.0 321.2,84.4 321.5,83.9 321.8,83.7 322.0,83.9 322.2,84.1 322.5,84.0 322.8,84.0 323.0,84.1 323.2,84.1 323.5,84.2 323.8,83.7 324.0,84.0 324.2,83.8 324.5,84.1 324.8,84.0 325.0,84.0 325.2,83.9 325.5,83.8 325.8,83.9 326.0,84.1 326.2,84.2 326.5,83.6 326.8,84.1 327.0,84.1 327.2,83.7 327.5,83.8 327.8,83.9" stroke="#a8a8a8" stroke-width="1.8"/>
<path d="M35.5,84.1L35.8,83.5 36.0,83.9 36.2,83.9 36.5,84.0 36.8,84.3 37.0,84.3 37.2,83.9 37.5,83.9 37.8,84.1 38.0,84.3 38.2,84.3 38.5,84.1 38.8,84.3 39.0,83.8 39.2,83.7 39.5,83.5 39.8,83.8 40.0,84.1 40.2,84.2 40.5,84.5 40.8,84.1 41.0,84.0 41.2,83.8 41.5,83.9 41.8,83.9 42.0,84.0 42.2,83.8 42.5,83.7 42.8,84.2 43.0,84.1 43.2,84.3 43.5,83.6 43.8,83.7 44.0,83.8 44.2,84.3 44.5,84.0 44.8,84.1 45.0,84.0 45.2,84.0 45.5,83.9 45.8,84.1 46.0,83.8 46.2,83.9 46.5,84.1 46.8,84.0 47.0,84.1 47.2,83.8 47.5,84.1 47.8,83.9 48.0,84.1 48.2,84.4 48.5,83.8 48.8,84.3 49.0,83.8 49.2,83.9 49.5,84.4 49.8,84.2 50.0,84.1 50.2,84.2 50.5,84.3 50.8,83.8 51.0,84.1 51.2,83.9 51.5,84.1 51.8,83.9 52.0,84.2 52.2,84.0 52.5,83.9 52.8,84.0 53.0,84.1 53.2,84.3 53.5,84.0 53.8,83.9 54.0,84.1 54.2,84.2 54.5,83.9 54.8,83.5 55.0,84.1 55.2,83.9 55.5,83.9 55.8,84.5 56.0,84.0 56.2,84.2 56.5,83.6 56.8,84.1 57.0,84.2 57.2,84.1 57.5,84.0 57.8,84.1 58.0,84.0 58.2,84.4 58.5,84.1 58.8,83.8 59.0,83.5 59.2,83.8 59.5,83.9 59.8,83.7 60.0,83.7 60.2,83.6 60.5,83.7 60.8,84.0 61.0,83.9 61.2,84.0 61.5,83.9 61.8,83.9 62.0,84.2 62.2,84.6 62.5,84.2 62.8,84.5 63.0,84.0 63.2,84.0 63.5,84.5 63.8,83.8 64.0,83.8 64.2,84.0 64.5,83.5 64.8,83.5 65.0,84.3 65.2,83.7 65.5,83.9 65.8,83.9 66.0,83.7 66.2,84.2 66.5,84.2 66.8,84.2 67.0,84.2 67.2,84.0 67.5,84.4 67.8,84.3 68.0,83.8 68.2,84.0 68.5,83.9 68.8,84.5 69.0,84.2 69.2,84.2 69.5,84.0 69.8,84.2 70.0,83.7 70.2,84.0 70.5,84.0 70.8,84.0 71.0,83.8 71.2,84.1 71.5,83.7 71.8,83.9 72.0,84.0 72.2,84.0 72.5,83.8 72.8,83.7 73.0,83.7 73.2,83.9 73.5,83.7 73.8,84.0 74.0,83.6 74.2,84.0 74.5,84.6 74.8,83.6 75.0,84.0 75.2,84.3 75.5,84.1 75.8,84.3 76.0,83.4 76.2,83.9 76.5,84.5 76.8,83.8 77.0,84.1 77.2,83.4 77.5,84.3 77.8,84.6 78.0,84.0 78.2,84.1 78.5,84.1 78.8,84.6 79.0,83.8 79.2,83.4 79.5,84.5 79.8,83.5 80.0,84.0 80.2,83.2 80.5,83.7 80.8,83.8 81.0,83.4 81.2,83.5 81.5,83.8 81.8,83.4 82.0,83.7 82.2,84.1 82.5,82.9 82.8,83.5 83.0,83.6 83.2,83.2 83.5,83.8 83.8,83.7 84.0,83.3 84.2,83.3 84.5,83.1 84.8,82.7 85.0,83.1 85.2,82.8 85.5,82.7 85.8,83.2 86.0,82.7 86.2,83.0 86.5,82.4 86.8,82.5 87.0,82.6 87.2,82.9 87.5,82.4 87.8,82.6 88.0,82.1 88.2,82.3 88.5,82.5 88.8,81.8 89.0,81.8 89.2,82.2 89.5,81.6 89.8,82.0 90.0,81.9 90.2,81.7 90.5,81.9 90.8,81.8 91.0,81.6 91.2,80.8 91.5,80.8 91.8,81.4 92.0,80.5 92.2,81.2 92.5,80.9 92.8,80.6 93.0,80.8 93.2,79.8 93.5,80.6 93.8,81.3 94.0,79.9 94.2,80.7 94.5,80.6 94.8,81.5 95.0,79.6 95.2,79.6 95.5,79.5 95.8,79.3 96.0,78.7 96.2,79.8 96.5,79.0 96.8,80.0 97.0,79.7 97.2,78.6 97.5,78.9 97.8,80.1 98.0,78.7 98.2,79.0 98.5,79.4 98.8,78.3 99.0,78.9 99.2,79.7 99.5,79.2 99.8,76.6 100.0,79.3 100.2,77.7 100.5,77.2 100.8,77.0 101.0,78.5 101.2,77.5 101.5,76.9 101.8,76.1 102.0,77.2 102.2,77.5 102.5,75.3 102.8,75.0 103.0,75.5 103.2,76.2 103.5,75.0 103.8,75.1 104.0,74.1 104.2,75.9 104.5,74.4 104.8,74.4 105.0,75.1 105.2,73.5 105.5,73.5 105.8,73.6 106.0,72.5 106.2,74.1 106.5,72.4 106.8,71.5 107.0,71.4 107.2,70.2 107.5,72.3 107.8,72.3 108.0,70.1 108.2,69.5 108.5,67.4 108.8,68.7 109.0,70.1 109.2,67.9 109.5,69.5 109.8,69.9 110.0,65.6 110.2,67.4 110.5,66.7 110.8,66.6 111.0,64.9 111.2,66.5 111.5,65.2 111.8,67.6 112.0,67.9 112.2,64.3 112.5,64.0 112.8,65.0 113.0,65.1 113.2,65.0 113.5,65.9 113.8,62.9 114.0,63.8 114.2,63.8 114.5,63.8 114.8,62.8 115.0,63.3 115.2,62.9 115.5,65.2 115.8,62.9 116.0,60.7 116.2,63.9 116.5,63.3 116.8,61.8 117.0,61.6 117.2,61.9 117.5,64.8 117.8,61.8 118.0,64.0 118.2,63.4 118.5,61.4 118.8,62.4 119.0,60.8 119.2,58.9 119.5,60.6 119.8,60.6 120.0,62.7 120.2,62.3 120.5,62.8 120.8,62.0 121.0,62.7 121.2,62.0 121.5,61.3 121.8,62.3 122.0,62.8 122.2,62.7 122.5,60.0 122.8,60.5 123.0,59.1 123.2,59.0 123.5,60.9 123.8,59.4 124.0,62.4 124.2,57.2 124.5,58.4 124.8,60.4 125.0,61.7 125.2,59.4 125.5,62.7 125.8,61.0 126.0,58.7 126.2,59.6 126.5,60.4 126.8,58.2 127.0,61.1 127.2,59.0 127.5,60.1 127.8,60.6 128.0,58.5 128.2,60.6 128.5,56.2 128.8,59.9 129.0,55.9 129.2,60.5 129.5,57.8 129.8,60.4 130.0,60.6 130.2,58.1 130.5,57.2 130.8,60.1 131.0,56.1 131.2,59.1 131.5,57.5 131.8,56.9 132.0,56.4 132.2,60.0 132.5,54.4 132.8,55.9 133.0,57.2 133.2,58.0 133.5,58.9 133.8,58.2 134.0,54.9 134.2,56.2 134.5,57.3 134.8,56.1 135.0,52.5 135.2,55.5 135.5,55.7 135.8,52.3 136.0,53.7 136.2,54.2 136.5,55.3 136.8,56.9 137.0,56.1 137.2,54.8 137.5,54.2 137.8,53.1 138.0,52.6 138.2,53.1 138.5,53.0 138.8,55.4 139.0,57.6 139.2,54.3 139.5,55.2 139.8,54.5 140.0,53.7 140.2,55.8 140.5,55.5 140.8,53.2 141.0,52.7 141.2,54.5 141.5,51.8 141.8,53.5 142.0,55.4 142.2,52.9 142.5,48.4 142.8,54.7 143.0,50.1 143.2,49.5 143.5,49.2 143.8,55.1 144.0,47.8 144.2,52.7 144.5,53.7 144.8,53.6 145.0,51.4 145.2,52.9 145.5,53.6 145.8,49.6 146.0,55.3 146.2,56.4 146.5,51.3 146.8,51.7 147.0,50.8 147.2,57.3 147.5,51.2 147.8,53.2 148.0,49.6 148.2,59.0 148.5,54.8 148.8,56.6 149.0,60.9 149.2,58.5 149.5,52.9 149.8,58.3 150.0,59.3 150.2,54.4 150.5,54.2 150.8,54.5 151.0,60.7 151.2,58.5 151.5,55.1 151.8,61.1 152.0,61.8 152.2,56.6 152.5,54.3 152.8,64.2 153.0,67.9 153.2,65.9 153.5,64.7 153.8,61.9 154.0,59.4 154.2,62.6 154.5,65.0 154.8,62.1 155.0,66.6 155.2,63.5 155.5,66.1 155.8,56.0 156.0,61.2 156.2,67.9 156.5,68.9 156.8,67.1 157.0,72.1 157.2,68.9 157.5,69.3 157.8,63.3 158.0,68.8 158.2,70.6 158.5,73.2 158.8,72.9 159.0,68.8 159.2,69.8 159.5,64.7 159.8,72.2 160.0,65.7 160.2,69.3 160.5,70.7 160.8,79.3 161.0,76.7 161.2,68.7 161.5,66.3 161.8,71.6 162.0,69.6 162.2,74.9 162.5,75.1 162.8,76.6 163.0,70.1 163.2,73.1 163.5,75.9 163.8,76.6 164.0,73.2 164.2,74.6 164.5,79.9 164.8,69.3 165.0,75.9 165.2,77.3 165.5,71.4 165.8,73.7 166.0,78.8 166.2,76.4 166.5,83.6 166.8,82.1 167.0,88.6 167.2,75.0 167.5,88.4 167.8,77.9 168.0,84.6 168.2,85.5 168.5,82.6 168.8,81.1 169.0,80.0 169.2,75.7 169.5,81.8 169.8,80.0 170.0,86.4 170.2,81.5 170.5,84.1 170.8,87.0 171.0,85.9 171.2,86.2 171.5,85.6 171.8,85.1 172.0,89.1 172.2,90.4 172.5,85.0 172.8,95.0 173.0,91.2 173.2,83.1 173.5,97.7 173.8,92.6 174.0,87.7 174.2,97.1 174.5,83.2 174.8,99.6 175.0,86.6 175.2,86.5 175.5,89.4 175.8,94.1 176.0,92.3 176.2,97.4 176.5,91.5 176.8,99.0 177.0,96.4 177.2,92.2 177.5,100.2 177.8,98.0 178.0,96.5 178.2,102.2 178.5,93.8 178.8,97.1 179.0,103.9 179.2,99.2 179.5,102.0 179.8,101.9 180.0,99.7 180.2,102.7 180.5,97.4 180.8,103.2 181.0,97.9 181.2,101.6 181.5,98.9 181.8,103.8 182.0,103.9 182.2,106.2 182.5,100.9 182.8,100.0 183.0,96.6 183.2,99.4 183.5,102.9 183.8,104.6 184.0,102.9 184.2,104.5 184.5,100.1 184.8,101.9 185.0,107.5 185.2,107.3 185.5,101.3 185.8,104.7 186.0,106.5 186.2,102.6 186.5,107.4 186.8,107.3 187.0,108.0 187.2,112.4 187.5,104.6 187.8,110.6 188.0,109.0 188.2,109.7 188.5,105.8 188.8,108.1 189.0,108.0 189.2,112.7 189.5,108.5 189.8,112.3 190.0,107.7 190.2,107.6 190.5,108.7 190.8,103.6 191.0,107.5 191.2,107.4 191.5,108.6 191.8,109.5 192.0,106.7 192.2,106.5 192.5,112.3 192.8,106.8 193.0,108.1 193.2,107.1 193.5,108.3 193.8,112.2 194.0,112.1 194.2,105.4 194.5,108.9 194.8,112.6 195.0,108.7 195.2,110.3 195.5,113.4 195.8,113.9 196.0,112.8 196.2,108.9 196.5,109.5 196.8,109.9 197.0,108.8 197.2,108.2 197.5,113.4 197.8,109.9 198.0,110.9 198.2,111.6 198.5,110.2 198.8,109.4 199.0,109.6 199.2,111.7 199.5,109.9 199.8,105.5 200.0,110.8 200.2,111.8 200.5,108.4 200.8,107.8 201.0,108.0 201.2,110.4 201.5,106.9 201.8,109.6 202.0,110.0 202.2,109.1 202.5,108.2 202.8,106.8 203.0,106.8 203.2,107.6 203.5,106.1 203.8,107.1 204.0,105.9 204.2,108.9 204.5,108.9 204.8,105.6 205.0,108.3 205.2,106.7 205.5,106.3 205.8,106.6 206.0,106.4 206.2,104.0 206.5,108.0 206.8,104.3 207.0,102.8 207.2,105.0 207.5,104.8 207.8,103.9 208.0,102.5 208.2,105.5 208.5,104.0 208.8,104.1 209.0,103.2 209.2,103.4 209.5,102.7 209.8,103.5 210.0,103.0 210.2,103.4 210.5,103.2 210.8,102.6 211.0,102.4 211.2,103.1 211.5,100.7 211.8,101.9 212.0,102.7 212.2,100.6 212.5,101.9 212.8,100.7 213.0,101.0 213.2,100.6 213.5,100.5 213.8,100.9 214.0,100.3 214.2,98.7 214.5,101.4 214.8,99.7 215.0,99.3 215.2,100.1 215.5,100.1 215.8,97.8 216.0,99.2 216.2,97.6 216.5,98.3 216.8,98.4 217.0,98.0 217.2,97.8 217.5,97.4 217.8,97.6 218.0,97.6 218.2,97.4 218.5,96.7 218.8,96.8 219.0,97.6 219.2,97.2 219.5,96.6 219.8,96.9 220.0,96.7 220.2,96.8 220.5,96.3 220.8,95.9 221.0,95.5 221.2,95.8 221.5,94.8 221.8,95.6 222.0,94.5 222.2,94.8 222.5,94.9 222.8,95.2 223.0,95.7 223.2,94.8 223.5,94.5 223.8,93.6 224.0,94.9 224.2,93.4 224.5,94.2 224.8,93.6 225.0,94.7 225.2,93.6 225.5,93.7 225.8,93.1 226.0,93.3 226.2,93.7 226.5,92.7 226.8,92.7 227.0,92.6 227.2,92.3 227.5,92.1 227.8,92.5 228.0,92.9 228.2,92.8 228.5,91.6 228.8,91.7 229.0,91.9 229.2,92.0 229.5,91.7 229.8,91.6 230.0,91.6 230.2,91.7 230.5,90.4 230.8,91.1 231.0,91.3 231.2,91.5 231.5,91.2 231.8,90.5 232.0,90.4 232.2,90.7 232.5,90.5 232.8,90.5 233.0,90.8 233.2,89.7 233.5,90.0 233.8,89.2 234.0,90.2 234.2,89.9 234.5,89.4 234.8,89.8 235.0,90.1 235.2,89.9 235.5,89.4 235.8,89.2 236.0,89.3 236.2,88.7 236.5,88.7 236.8,88.8 237.0,88.9 237.2,88.9 237.5,88.5 237.8,88.3 238.0,88.6 238.2,88.3 238.5,88.6 238.8,88.9 239.0,88.7 239.2,87.9 239.5,88.0 239.8,87.4 240.0,88.0 240.2,87.6 240.5,87.3 240.8,87.4 241.0,88.0 241.2,87.7 241.5,87.6 241.8,87.9 242.0,87.3 242.2,87.0 242.5,87.5 242.8,86.5 243.0,87.3 243.2,87.3 243.5,87.2 243.8,87.4 244.0,86.9 244.2,87.1 244.5,86.5 244.8,87.0 245.0,87.3 245.2,87.9 245.5,88.8 245.8,88.8 246.0,89.4 246.2,89.0 246.5,89.5 246.8,88.7 247.0,88.6 247.2,88.1 247.5,87.8 247.8,87.3 248.0,86.7 248.2,86.2 248.5,86.6 248.8,86.0 249.0,85.2 249.2,86.0 249.5,86.0 249.8,86.1 250.0,86.3 250.2,85.3 250.5,85.7 250.8,85.6 251.0,85.0 251.2,84.8 251.5,85.9 251.8,85.1 252.0,85.2 252.2,85.3 252.5,85.2 252.8,85.4 253.0,84.7 253.2,85.1 253.5,85.1 253.8,84.8 254.0,84.8 254.2,85.0 254.5,85.0 254.8,84.4 255.0,84.9 255.2,85.0 255.5,85.3 255.8,85.1 256.0,85.3 256.2,84.8 256.5,84.7 256.8,85.5 257.0,84.8 257.2,84.5 257.5,84.7 257.8,85.1 258.0,84.3 258.2,85.1 258.5,85.4 258.8,85.6 259.0,85.5 259.2,85.5 259.5,85.8 259.8,86.3 260.0,86.9 260.2,86.6 260.5,86.4 260.8,85.8 261.0,86.0 261.2,85.0 261.5,84.5 261.8,84.6 262.0,84.3 262.2,84.7 262.5,84.8 262.8,84.5 263.0,83.9 263.2,83.9 263.5,84.4 263.8,83.8 264.0,84.3 264.2,83.7 264.5,84.0 264.8,84.3 265.0,83.9 265.2,84.4 265.5,84.5 265.8,84.6 266.0,84.0 266.2,84.1 266.5,84.1 266.8,84.2 267.0,83.6 267.2,84.2 267.5,84.3 267.8,83.6 268.0,83.6 268.2,83.9 268.5,84.6 268.8,84.2 269.0,83.8 269.2,84.0 269.5,83.5 269.8,84.5 270.0,83.8 270.2,84.2 270.5,83.6 270.8,84.0 271.0,83.7 271.2,84.2 271.5,84.5 271.8,84.4 272.0,84.2 272.2,84.3 272.5,83.6 272.8,83.6 273.0,83.9 273.2,84.3 273.5,84.0 273.8,84.2 274.0,83.5 274.2,83.9 274.5,83.8 274.8,84.1 275.0,84.6 275.2,84.2 275.5,84.4 275.8,83.9 276.0,84.0 276.2,84.3 276.5,84.1 276.8,83.5 277.0,84.3 277.2,84.3 277.5,84.1 277.8,84.2 278.0,84.1 278.2,83.8 278.5,83.5 278.8,84.6 279.0,84.0 279.2,84.0 279.5,84.0 279.8,84.1 280.0,84.1 280.2,83.7 280.5,84.1 280.8,84.0 281.0,84.0 281.2,84.0 281.5,84.1 281.8,83.7 282.0,84.0 282.2,83.9 282.5,84.0 282.8,84.3 283.0,84.3 283.2,84.3 283.5,83.9 283.8,84.2 284.0,84.3 284.2,83.9 284.5,83.8 284.8,84.5 285.0,83.5 285.2,84.0 285.5,84.0 285.8,83.7 286.0,84.0 286.2,84.2 286.5,83.4 286.8,84.3 287.0,84.0 287.2,83.7 287.5,84.3 287.8,84.0 288.0,83.9 288.2,83.4 288.5,84.3 288.8,84.0 289.0,83.8 289.2,84.0 289.5,84.4 289.8,83.9 290.0,84.0 290.2,83.9 290.5,83.7 290.8,83.7 291.0,83.9 291.2,83.9 291.5,84.3 291.8,84.0 292.0,83.9 292.2,84.1 292.5,84.0 292.8,84.2 293.0,83.6 293.2,83.4 293.5,84.1 293.8,83.9 294.0,84.1 294.2,83.6 294.5,83.9 294.8,84.0 295.0,84.1 295.2,84.0 295.5,84.3 295.8,83.8 296.0,84.2 296.2,83.9 296.5,84.0 296.8,83.7 297.0,84.0 297.2,83.7 297.5,84.3 297.8,83.8 298.0,84.1 298.2,83.9 298.5,84.0 298.8,83.7 299.0,84.6 299.2,83.9 299.5,84.4 299.8,83.7 300.0,84.5 300.2,84.3 300.5,84.5 300.8,83.6 301.0,84.3 301.2,84.0 301.5,84.1 301.8,84.5 302.0,84.1 302.2,83.8 302.5,84.0 302.8,83.7 303.0,84.1 303.2,84.0 303.5,84.1 303.8,83.9 304.0,83.5 304.2,83.9 304.5,83.9 304.8,84.2 305.0,84.2 305.2,83.6 305.5,84.3 305.8,84.2 306.0,84.0 306.2,84.1 306.5,83.5 306.8,84.5 307.0,83.9 307.2,83.8 307.5,84.3 307.8,84.2 308.0,83.9 308.2,83.6 308.5,84.2 308.8,84.4 309.0,83.8 309.2,83.6 309.5,84.1 309.8,84.5 310.0,83.6 310.2,84.0 310.5,83.7 310.8,84.0 311.0,84.1 311.2,84.1 311.5,83.6 311.8,83.6 312.0,84.5 312.2,84.2 312.5,83.6 312.8,84.1 313.0,84.3 313.2,84.0 313.5,84.0 313.8,84.0 314.0,84.1 314.2,84.1 314.5,84.1 314.8,83.9 315.0,84.2 315.2,84.1 315.5,84.0 315.8,83.7 316.0,83.9 316.2,84.0 316.5,83.9 316.8,83.9 317.0,83.7 317.2,83.9 317.5,83.6 317.8,83.7 318.0,84.0 318.2,84.1 318.5,83.8 318.8,83.9 319.0,84.0 319.2,84.3 319.5,84.4 319.8,83.9 320.0,83.8 320.2,83.8 320.5,84.3 320.8,83.8 321.0,84.1 321.2,83.9 321.5,83.9 321.8,84.2 322.0,84.1 322.2,84.5 322.5,84.2 322.8,84.4 323.0,83.9 323.2,84.0 323.5,83.8 323.8,83.9 324.0,84.1 324.2,83.9 324.5,84.1 324.8,83.9 325.0,83.9 325.2,84.2 325.5,84.0 325.8,84.0 326.0,84.1 326.2,83.8 326.5,83.6 326.8,84.1 327.0,84.1 327.2,84.5 327.5,84.0 327.8,84.1" stroke="#7f7f7f" stroke-width="1.8"/>
<path d="M35.5,84.5L35.8,83.9 36.0,83.9 36.2,84.2 36.5,84.1 36.8,84.2 37.0,83.8 37.2,84.3 37.5,84.1 37.8,83.6 38.0,84.0 38.2,83.9 38.5,84.0 38.8,84.3 39.0,84.0 39.2,83.9 39.5,84.2 39.8,83.9 40.0,83.7 40.2,83.8 40.5,84.4 40.8,84.2 41.0,84.4 41.2,83.8 41.5,83.9 41.8,83.8 42.0,84.2 42.2,84.3 42.5,84.0 42.8,84.0 43.0,84.2 43.2,84.0 43.5,83.9 43.8,83.9 44.0,84.2 44.2,84.5 44.5,84.1 44.8,84.0 45.0,84.1 45.2,84.1 45.5,84.2 45.8,83.8 46.0,84.0 46.2,84.0 46.5,84.2 46.8,84.1 47.0,84.0 47.2,84.2 47.5,84.3 47.8,84.1 48.0,83.7 48.2,84.0 48.5,83.6 48.8,84.0 49.0,84.1 49.2,84.3 49.5,84.1 49.8,83.6 50.0,83.9 50.2,83.8 50.5,83.8 50.8,84.0 51.0,84.1 51.2,84.0 51.5,83.8 51.8,83.9 52.0,83.9 52.2,84.0 52.5,84.2 52.8,84.1 53.0,84.2 53.2,83.7 53.5,84.5 53.8,84.1 54.0,83.5 54.2,84.1 54.5,84.3 54.8,84.0 55.0,83.7 55.2,84.0 55.5,83.8 55.8,84.0 56.0,84.1 56.2,83.5 56.5,84.0 56.8,84.1 57.0,84.1 57.2,83.9 57.5,83.9 57.8,83.8 58.0,84.0 58.2,84.4 58.5,83.9 58.8,84.1 59.0,84.1 59.2,84.4 59.5,84.2 59.8,84.2 60.0,84.0 60.2,84.4 60.5,84.0 60.8,84.0 61.0,84.3 61.2,84.2 61.5,84.2 61.8,83.8 62.0,84.6 62.2,84.1 62.5,84.4 62.8,84.1 63.0,83.8 63.2,84.2 63.5,84.0 63.8,84.2 64.0,83.5 64.2,83.8 64.5,83.7 64.8,84.4 65.0,84.3 65.2,83.7 65.5,84.1 65.8,84.1 66.0,83.9 66.2,84.3 66.5,83.8 66.8,84.0 67.0,83.9 67.2,84.2 67.5,83.9 67.8,84.2 68.0,83.7 68.2,83.7 68.5,83.7 68.8,83.9 69.0,83.8 69.2,84.6 69.5,83.8 69.8,84.1 70.0,84.0 70.2,84.1 70.5,84.4 70.8,84.2 71.0,83.8 71.2,83.6 71.5,84.2 71.8,84.3 72.0,83.6 72.2,84.3 72.5,83.4 72.8,84.0 73.0,84.3 73.2,83.7 73.5,83.5 73.8,84.4 74.0,83.5 74.2,84.1 74.5,83.6 74.8,84.1 75.0,84.5 75.2,83.9 75.5,83.7 75.8,83.4 76.0,83.5 76.2,83.8 76.5,84.1 76.8,84.2 77.0,84.1 77.2,84.2 77.5,84.1 77.8,84.6 78.0,83.9 78.2,84.0 78.5,83.4 78.8,83.8 79.0,84.1 79.2,83.8 79.5,84.3 79.8,84.1 80.0,84.5 80.2,83.4 80.5,83.7 80.8,84.2 81.0,83.8 81.2,83.5 81.5,83.6 81.8,83.6 82.0,83.9 82.2,83.8 82.5,83.6 82.8,83.3 83.0,83.8 83.2,83.8 83.5,83.1 83.8,83.7 84.0,83.0 84.2,83.2 84.5,83.0 84.8,82.7 85.0,83.0 85.2,82.9 85.5,83.4 85.8,83.3 86.0,82.8 86.2,82.5 86.5,82.5 86.8,82.2 87.0,82.7 87.2,82.7 87.5,82.4 87.8,82.7 88.0,82.7 88.2,82.9 88.5,82.2 88.8,82.8 89.0,82.2 89.2,82.8 89.5,82.0 89.8,82.6 90.0,81.9 90.2,82.7 90.5,82.3 90.8,81.6 91.0,82.3 91.2,81.9 91.5,82.1 91.8,82.7 92.0,81.7 92.2,81.5 92.5,82.2 92.8,81.4 93.0,82.0 93.2,82.0 93.5,81.5 93.8,81.8 94.0,80.2 94.2,82.1 94.5,80.8 94.8,80.6 95.0,82.3 95.2,82.1 95.5,80.6 95.8,81.2 96.0,80.6 96.2,80.0 96.5,81.0 96.8,81.4 97.0,82.0 97.2,80.3 97.5,81.1 97.8,80.1 98.0,80.1 98.2,81.3 98.5,78.8 98.8,79.2 99.0,79.3 99.2,80.8 99.5,80.1 99.8,80.2 100.0,80.0 100.2,80.5 100.5,79.0 100.8,79.1 101.0,78.9 101.2,79.6 101.5,77.8 101.8,78.7 102.0,80.7 102.2,79.3 102.5,78.6 102.8,77.6 103.0,78.6 103.2,78.5 103.5,78.8 103.8,77.4 104.0,78.3 104.2,78.4 104.5,78.4 104.8,77.0 105.0,77.9 105.2,79.0 105.5,76.5 105.8,77.7 106.0,76.5 106.2,76.3 106.5,75.3 106.8,75.3 107.0,76.9 107.2,76.3 107.5,77.4 107.8,74.0 108.0,75.2 108.2,74.0 108.5,75.7 108.8,77.5 109.0,73.3 109.2,74.8 109.5,74.6 109.8,74.6 110.0,73.8 110.2,73.7 110.5,76.1 110.8,72.8 111.0,74.6 111.2,74.4 111.5,71.6 111.8,72.4 112.0,73.8 112.2,75.5 112.5,73.0 112.8,72.4 113.0,73.0 113.2,74.3 113.5,73.6 113.8,74.1 114.0,72.1 114.2,71.3 114.5,70.9 114.8,73.0 115.0,71.7 115.2,71.2 115.5,72.5 115.8,71.9 116.0,68.9 116.2,71.3 116.5,70.3 116.8,72.0 117.0,71.2 117.2,73.5 117.5,71.2 117.8,69.5 118.0,68.2 118.2,69.3 118.5,69.9 118.8,70.7 119.0,71.5 119.2,70.9 119.5,69.8 119.8,71.6 120.0,69.2 120.2,71.8 120.5,72.9 120.8,71.8 121.0,72.6 121.2,72.2 121.5,68.6 121.8,70.5 122.0,69.8 122.2,68.5 122.5,68.3 122.8,70.8 123.0,68.1 123.2,69.4 123.5,69.9 123.8,69.3 124.0,71.9 124.2,71.0 124.5,70.0 124.8,68.9 125.0,70.3 125.2,69.9 125.5,68.3 125.8,67.6 126.0,68.5 126.2,67.7 126.5,70.2 126.8,70.0 127.0,69.0 127.2,69.9 127.5,70.2 127.8,66.9 128.0,69.7 128.2,70.8 128.5,68.5 128.8,66.5 129.0,69.1 129.2,67.3 129.5,69.8 129.8,69.8 130.0,70.1 130.2,69.2 130.5,66.0 130.8,70.6 131.0,66.2 131.2,70.2 131.5,68.9 131.8,67.1 132.0,67.4 132.2,67.8 132.5,70.8 132.8,67.5 133.0,69.6 133.2,64.5 133.5,68.1 133.8,67.3 134.0,69.3 134.2,68.2 134.5,69.4 134.8,65.6 135.0,67.5 135.2,66.1 135.5,68.1 135.8,67.7 136.0,64.5 136.2,68.4 136.5,69.8 136.8,65.8 137.0,68.6 137.2,67.3 137.5,64.7 137.8,67.9 138.0,64.6 138.2,67.6 138.5,63.3 138.8,63.5 139.0,67.1 139.2,66.6 139.5,67.8 139.8,65.6 140.0,63.6 140.2,69.2 140.5,64.0 140.8,69.0 141.0,67.9 141.2,70.1 141.5,61.1 141.8,65.9 142.0,65.4 142.2,67.6 142.5,63.4 142.8,71.2 143.0,65.9 143.2,60.7 143.5,67.0 143.8,66.0 144.0,64.3 144.2,68.1 144.5,65.9 144.8,63.4 145.0,65.5 145.2,65.0 145.5,67.0 145.8,65.2 146.0,66.0 146.2,62.1 146.5,64.2 146.8,67.1 147.0,72.6 147.2,64.5 147.5,64.5 147.8,69.6 148.0,73.0 148.2,70.6 148.5,64.4 148.8,70.7 149.0,68.9 149.2,66.9 149.5,63.8 149.8,67.9 150.0,68.3 150.2,69.9 150.5,62.9 150.8,64.8 151.0,68.8 151.2,73.4 151.5,71.5 151.8,67.0 152.0,71.6 152.2,66.2 152.5,68.2 152.8,68.5 153.0,67.4 153.2,68.1 153.5,73.2 153.8,71.4 154.0,62.7 154.2,75.0 154.5,72.5 154.8,66.8 155.0,71.6 155.2,74.2 155.5,76.3 155.8,69.4 156.0,67.7 156.2,66.3 156.5,71.7 156.8,68.0 157.0,76.2 157.2,71.6 157.5,75.1 157.8,71.9 158.0,69.8 158.2,68.7 158.5,77.0 158.8,68.1 159.0,75.2 159.2,77.6 159.5,74.4 159.8,79.7 160.0,74.0 160.2,73.0 160.5,75.2 160.8,72.3 161.0,76.0 161.2,74.9 161.5,81.1 161.8,75.1 162.0,79.0 162.2,77.6 162.5,76.3 162.8,75.3 163.0,83.2 163.2,83.1 163.5,78.0 163.8,74.9 164.0,75.6 164.2,73.5 164.5,72.0 164.8,75.7 165.0,78.1 165.2,82.7 165.5,82.5 165.8,80.6 166.0,77.7 166.2,78.1 166.5,79.3 166.8,80.2 167.0,77.1 167.2,79.1 167.5,79.0 167.8,79.2 168.0,82.9 168.2,85.2 168.5,79.1 168.8,79.6 169.0,82.5 169.2,83.5 169.5,73.5 169.8,85.4 170.0,83.4 170.2,81.7 170.5,87.6 170.8,82.7 171.0,76.2 171.2,79.9 171.5,81.4 171.8,81.8 172.0,83.9 172.2,80.8 172.5,85.4 172.8,86.7 173.0,84.8 173.2,82.0 173.5,84.4 173.8,83.3 174.0,93.9 174.2,81.8 174.5,78.6 174.8,81.7 175.0,88.2 175.2,90.4 175.5,86.4 175.8,91.3 176.0,85.2 176.2,90.0 176.5,84.7 176.8,83.5 177.0,96.1 177.2,87.8 177.5,91.6 177.8,94.3 178.0,91.7 178.2,90.5 178.5,86.3 178.8,95.4 179.0,86.6 179.2,83.5 179.5,88.6 179.8,89.0 180.0,91.0 180.2,95.1 180.5,89.5 180.8,90.2 181.0,89.2 181.2,84.9 181.5,89.6 181.8,90.8 182.0,87.2 182.2,96.8 182.5,96.3 182.8,94.0 183.0,95.0 183.2,90.9 183.5,94.2 183.8,87.9 184.0,88.8 184.2,91.3 184.5,94.9 184.8,92.0 185.0,91.5 185.2,97.3 185.5,93.2 185.8,92.3 186.0,93.9 186.2,90.1 186.5,91.3 186.8,97.3 187.0,94.7 187.2,97.5 187.5,93.7 187.8,97.8 188.0,93.0 188.2,94.6 188.5,93.1 188.8,96.2 189.0,99.8 189.2,91.2 189.5,96.4 189.8,92.4 190.0,94.9 190.2,94.3 190.5,91.3 190.8,95.1 191.0,92.5 191.2,99.7 191.5,93.9 191.8,96.6 192.0,96.3 192.2,96.0 192.5,95.2 192.8,92.1 193.0,100.3 193.2,95.9 193.5,97.6 193.8,93.4 194.0,97.0 194.2,95.0 194.5,96.9 194.8,94.5 195.0,93.8 195.2,96.8 195.5,95.9 195.8,99.0 196.0,95.4 196.2,94.2 196.5,97.1 196.8,93.7 197.0,100.1 197.2,99.6 197.5,98.7 197.8,96.9 198.0,96.0 198.2,96.1 198.5,96.1 198.8,94.7 199.0,96.9 199.2,98.3 199.5,98.2 199.8,92.3 200.0,99.6 200.2,96.3 200.5,93.5 200.8,95.2 201.0,97.3 201.2,95.9 201.5,94.5 201.8,93.9 202.0,97.2 202.2,94.6 202.5,95.3 202.8,94.0 203.0,93.5 203.2,96.0 203.5,97.5 203.8,94.8 204.0,92.8 204.2,94.2 204.5,94.8 204.8,92.2 205.0,96.2 205.2,93.6 205.5,95.4 205.8,94.5 206.0,94.4 206.2,92.6 206.5,95.4 206.8,94.8 207.0,95.9 207.2,93.5 207.5,94.4 207.8,93.3 208.0,94.8 208.2,94.0 208.5,92.5 208.8,93.6 209.0,92.7 209.2,92.7 209.5,93.5 209.8,94.5 210.0,92.1 210.2,92.8 210.5,92.0 210.8,94.4 211.0,94.1 211.2,94.3 211.5,93.2 211.8,91.6 212.0,92.0 212.2,92.3 212.5,92.1 212.8,91.6 213.0,92.3 213.2,91.7 213.5,91.8 213.8,93.3 214.0,92.0 214.2,90.8 214.5,91.9 214.8,91.6 215.0,91.9 215.2,91.7 215.5,90.6 215.8,91.4 216.0,91.8 216.2,92.3 216.5,91.3 216.8,92.1 217.0,91.9 217.2,90.3 217.5,90.3 217.8,91.7 218.0,90.1 218.2,90.3 218.5,90.8 218.8,90.0 219.0,91.1 219.2,90.8 219.5,90.8 219.8,90.6 220.0,89.6 220.2,90.5 220.5,90.4 220.8,90.2 221.0,89.6 221.2,89.8 221.5,89.2 221.8,89.8 222.0,90.0 222.2,89.6 222.5,89.3 222.8,89.7 223.0,89.1 223.2,88.3 223.5,89.3 223.8,89.0 224.0,88.4 224.2,89.1 224.5,89.2 224.8,89.2 225.0,88.5 225.2,88.4 225.5,88.6 225.8,88.5 226.0,87.9 226.2,88.0 226.5,88.9 226.8,88.2 227.0,88.1 227.2,87.8 227.5,88.2 227.8,88.3 228.0,88.1 228.2,88.6 228.5,87.8 228.8,88.0 229.0,87.5 229.2,88.1 229.5,87.8 229.8,88.0 230.0,88.0 230.2,87.2 230.5,87.6 230.8,87.2 231.0,87.8 231.2,87.2 231.5,87.9 231.8,87.4 232.0,87.3 232.2,86.8 232.5,87.0 232.8,87.1 233.0,86.6 233.2,86.8 233.5,86.6 233.8,86.5 234.0,86.8 234.2,86.8 234.5,86.5 234.8,86.8 235.0,86.4 235.2,86.1 235.5,86.2 235.8,86.6 236.0,86.9 236.2,86.4 236.5,86.4 236.8,85.9 237.0,86.4 237.2,86.3 237.5,85.9 237.8,86.3 238.0,86.2 238.2,85.4 238.5,85.4 238.8,85.8 239.0,85.9 239.2,86.3 239.5,85.7 239.8,85.8 240.0,85.7 240.2,86.0 240.5,85.8 240.8,85.8 241.0,85.6 241.2,85.1 241.5,85.5 241.8,86.2 242.0,85.9 242.2,86.1 242.5,85.8 242.8,85.2 243.0,85.2 243.2,85.6 243.5,85.2 243.8,85.6 244.0,85.8 244.2,85.8 244.5,85.7 244.8,84.9 245.0,86.0 245.2,85.2 245.5,85.4 245.8,86.2 246.0,86.3 246.2,86.7 246.5,86.5 246.8,86.1 247.0,86.2 247.2,85.6 247.5,85.2 247.8,85.3 248.0,85.1 248.2,85.0 248.5,84.7 248.8,85.2 249.0,84.6 249.2,84.6 249.5,85.0 249.8,83.8 250.0,85.0 250.2,84.9 250.5,84.5 250.8,85.3 251.0,84.8 251.2,85.1 251.5,84.9 251.8,84.5 252.0,84.3 252.2,84.0 252.5,84.1 252.8,84.0 253.0,84.2 253.2,84.5 253.5,83.9 253.8,84.5 254.0,84.5 254.2,83.7 254.5,84.0 254.8,84.2 255.0,83.9 255.2,83.9 255.5,84.7 255.8,84.2 256.0,84.6 256.2,84.1 256.5,84.4 256.8,83.6 257.0,83.9 257.2,84.4 257.5,84.1 257.8,84.5 258.0,84.0 258.2,83.9 258.5,83.9 258.8,84.7 259.0,84.1 259.2,83.8 259.5,83.9 259.8,83.6 260.0,84.5 260.2,83.8 260.5,84.2 260.8,84.0 261.0,83.9 261.2,83.8 261.5,84.2 261.8,84.0 262.0,84.4 262.2,84.5 262.5,83.8 262.8,84.0 263.0,84.6 263.2,84.3 263.5,84.0 263.8,83.5 264.0,83.7 264.2,83.7 264.5,84.6 264.8,84.1 265.0,83.9 265.2,83.9 265.5,83.9 265.8,84.1 266.0,83.4 266.2,83.5 266.5,84.1 266.8,84.4 267.0,83.3 267.2,84.2 267.5,83.6 267.8,83.4 268.0,84.3 268.2,83.9 268.5,84.1 268.8,83.8 269.0,83.9 269.2,83.4 269.5,83.8 269.8,84.0 270.0,83.6 270.2,84.1 270.5,84.1 270.8,83.3 271.0,84.3 271.2,84.2 271.5,84.0 271.8,84.4 272.0,84.7 272.2,83.7 272.5,84.3 272.8,84.2 273.0,84.1 273.2,84.3 273.5,84.4 273.8,84.0 274.0,83.3 274.2,83.8 274.5,83.8 274.8,84.5 275.0,84.0 275.2,84.4 275.5,83.8 275.8,84.1 276.0,84.0 276.2,84.0 276.5,84.2 276.8,84.5 277.0,83.8 277.2,84.5 277.5,84.4 277.8,84.1 278.0,84.2 278.2,83.9 278.5,83.7 278.8,83.9 279.0,84.0 279.2,84.0 279.5,83.7 279.8,84.6 280.0,83.9 280.2,84.3 280.5,84.4 280.8,84.0 281.0,84.1 281.2,83.8 281.5,83.7 281.8,84.6 282.0,84.0 282.2,83.4 282.5,83.8 282.8,83.6 283.0,84.0 283.2,84.5 283.5,84.4 283.8,83.8 284.0,83.7 284.2,84.2 284.5,84.1 284.8,83.9 285.0,84.5 285.2,84.1 285.5,83.5 285.8,83.4 286.0,84.1 286.2,83.5 286.5,84.2 286.8,84.3 287.0,84.6 287.2,83.7 287.5,84.1 287.8,83.4 288.0,83.9 288.2,84.0 288.5,84.6 288.8,83.6 289.0,84.1 289.2,84.1 289.5,84.6 289.8,83.7 290.0,83.7 290.2,84.2 290.5,84.0 290.8,83.9 291.0,83.7 291.2,84.0 291.5,83.5 291.8,84.1 292.0,84.2 292.2,84.2 292.5,84.6 292.8,84.2 293.0,83.7 293.2,83.9 293.5,84.2 293.8,83.9 294.0,84.6 294.2,84.1 294.5,83.9 294.8,83.8 295.0,84.2 295.2,83.8 295.5,83.5 295.8,84.1 296.0,83.8 296.2,84.5 296.5,84.6 296.8,83.8 297.0,84.0 297.2,84.0 297.5,84.2 297.8,84.1 298.0,83.8 298.2,83.5 298.5,84.1 298.8,84.5 299.0,83.7 299.2,83.8 299.5,83.8 299.8,84.0 300.0,83.4 300.2,84.0 300.5,83.9 300.8,84.5 301.0,84.2 301.2,84.2 301.5,84.0 301.8,83.9 302.0,84.2 302.2,83.6 302.5,84.3 302.8,84.1 303.0,84.0 303.2,84.3 303.5,83.9 303.8,83.8 304.0,84.1 304.2,83.5 304.5,84.0 304.8,83.9 305.0,84.3 305.2,84.5 305.5,84.2 305.8,84.1 306.0,84.1 306.2,83.8 306.5,84.5 306.8,84.3 307.0,84.5 307.2,83.7 307.5,84.2 307.8,84.1 308.0,84.3 308.2,83.8 308.5,84.1 308.8,84.0 309.0,84.5 309.2,83.7 309.5,83.9 309.8,83.9 310.0,83.7 310.2,84.1 310.5,84.1 310.8,83.8 311.0,83.9 311.2,84.1 311.5,84.0 311.8,84.1 312.0,83.8 312.2,83.8 312.5,84.0 312.8,83.5 313.0,84.4 313.2,84.1 313.5,83.6 313.8,84.1 314.0,84.4 314.2,83.7 314.5,83.9 314.8,84.3 315.0,83.8 315.2,84.3 315.5,84.3 315.8,84.0 316.0,84.1 316.2,84.3 316.5,84.1 316.8,84.3 317.0,84.0 317.2,84.0 317.5,83.8 317.8,84.1 318.0,84.3 318.2,84.3 318.5,84.1 318.8,83.7 319.0,83.8 319.2,84.2 319.5,83.8 319.8,84.3 320.0,83.8 320.2,84.1 320.5,83.8 320.8,83.9 321.0,84.1 321.2,83.9 321.5,84.3 321.8,84.0 322.0,83.8 322.2,83.5 322.5,83.9 322.8,84.0 323.0,84.2 323.2,83.8 323.5,84.4 323.8,84.2 324.0,83.9 324.2,84.3 324.5,83.7 324.8,83.8 325.0,84.1 325.2,84.1 325.5,84.3 325.8,84.3 326.0,83.9 326.2,83.9 326.5,83.9 326.8,84.0 327.0,84.1 327.2,83.9 327.5,84.3 327.8,84.0" stroke="#404040" stroke-width="1.8"/>
<path d="M35.5,83.5L35.8,83.6 36.0,84.2 36.2,84.1 36.5,83.6 36.8,83.4 37.0,84.5 37.2,84.2 37.5,83.9 37.8,83.6 38.0,84.3 38.2,83.8 38.5,84.1 38.8,83.3 39.0,83.9 39.2,84.1 39.5,84.1 39.8,83.7 40.0,83.8 40.2,84.4 40.5,83.9 40.8,84.5 41.0,84.3 41.2,84.4 41.5,84.5 41.8,84.2 42.0,84.3 42.2,83.8 42.5,83.7 42.8,84.1 43.0,84.4 43.2,83.7 43.5,84.7 43.8,84.7 44.0,83.8 44.2,83.8 44.5,83.7 44.8,84.1 45.0,84.4 45.2,84.2 45.5,83.8 45.8,84.3 46.0,84.3 46.2,84.5 46.5,84.4 46.8,83.7 47.0,83.9 47.2,84.4 47.5,84.4 47.8,84.2 48.0,83.8 48.2,84.4 48.5,84.1 48.8,84.7 49.0,84.4 49.2,83.9 49.5,83.7 49.8,84.4 50.0,84.3 50.2,83.7 50.5,84.1 50.8,84.2 51.0,83.8 51.2,83.9 51.5,83.6 51.8,83.7 52.0,84.2 52.2,84.1 52.5,84.0 52.8,84.5 53.0,84.3 53.2,83.7 53.5,84.6 53.8,83.7 54.0,83.9 54.2,84.1 54.5,83.8 54.8,83.9 55.0,83.6 55.2,84.2 55.5,84.1 55.8,84.1 56.0,83.4 56.2,83.7 56.5,84.3 56.8,84.1 57.0,84.3 57.2,84.0 57.5,83.9 57.8,83.3 58.0,84.6 58.2,83.7 58.5,83.9 58.8,84.3 59.0,84.1 59.2,84.2 59.5,84.0 59.8,83.7 60.0,84.5 60.2,83.6 60.5,84.1 60.8,83.5 61.0,83.9 61.2,83.6 61.5,83.8 61.8,83.6 62.0,84.0 62.2,84.3 62.5,83.8 62.8,83.8 63.0,83.3 63.2,84.7 63.5,84.1 63.8,83.6 64.0,84.5 64.2,84.1 64.5,83.3 64.8,83.5 65.0,84.3 65.2,83.5 65.5,83.6 65.8,83.7 66.0,83.9 66.2,83.9 66.5,84.3 66.8,84.2 67.0,83.8 67.2,84.0 67.5,83.4 67.8,84.1 68.0,84.7 68.2,84.1 68.5,83.9 68.8,83.9 69.0,84.0 69.2,84.3 69.5,83.5 69.8,84.2 70.0,83.8 70.2,84.1 70.5,84.4 70.8,83.5 71.0,84.7 71.2,84.3 71.5,83.8 71.8,84.1 72.0,83.7 72.2,84.0 72.5,84.1 72.8,83.1 73.0,84.0 73.2,83.9 73.5,84.2 73.8,84.1 74.0,83.6 74.2,83.6 74.5,83.8 74.8,84.0 75.0,83.5 75.2,84.3 75.5,83.8 75.8,83.7 76.0,83.9 76.2,83.5 76.5,83.8 76.8,83.8 77.0,82.8 77.2,83.1 77.5,82.9 77.8,83.3 78.0,82.9 78.2,82.9 78.5,82.7 78.8,82.3 79.0,83.1 79.2,82.9 79.5,82.9 79.8,83.6 80.0,83.3 80.2,82.7 80.5,82.4 80.8,82.8 81.0,82.1 81.2,82.0 81.5,82.5 81.8,81.7 82.0,81.5 82.2,81.9 82.5,82.3 82.8,81.3 83.0,81.8 83.2,81.8 83.5,81.5 83.8,81.6 84.0,80.9 84.2,80.9 84.5,80.6 84.8,80.7 85.0,81.1 85.2,80.7 85.5,80.2 85.8,80.6 86.0,79.5 86.2,80.3 86.5,80.2 86.8,79.5 87.0,79.5 87.2,79.6 87.5,79.5 87.8,79.1 88.0,78.8 88.2,78.7 88.5,78.9 88.8,78.4 89.0,78.1 89.2,77.9 89.5,78.8 89.8,78.1 90.0,77.8 90.2,77.3 90.5,76.9 90.8,76.3 91.0,76.0 91.2,76.0 91.5,75.5 91.8,74.3 92.0,75.0 92.2,74.1 92.5,73.0 92.8,73.1 93.0,74.0 93.2,72.1 93.5,72.0 93.8,71.3 94.0,70.1 94.2,69.9 94.5,69.8 94.8,68.5 95.0,68.2 95.2,67.8 95.5,67.1 95.8,66.4 96.0,66.2 96.2,65.5 96.5,64.4 96.8,64.4 97.0,63.8 97.2,61.0 97.5,61.4 97.8,60.4 98.0,59.6 98.2,58.7 98.5,57.9 98.8,57.0 99.0,57.1 99.2,54.7 99.5,55.5 99.8,53.2 100.0,55.4 100.2,53.9 100.5,51.3 100.8,51.8 101.0,51.7 101.2,50.0 101.5,50.8 101.8,49.1 102.0,50.7 102.2,48.5 102.5,48.1 102.8,46.3 103.0,45.4 103.2,46.7 103.5,43.6 103.8,45.4 104.0,46.5 104.2,46.0 104.5,41.7 104.8,43.0 105.0,43.2 105.2,42.9 105.5,42.9 105.8,39.8 106.0,41.0 106.2,38.6 106.5,40.5 106.8,42.3 107.0,38.7 107.2,39.7 107.5,39.3 107.8,37.0 108.0,38.8 108.2,36.9 108.5,38.0 108.8,38.7 109.0,37.0 109.2,38.1 109.5,35.7 109.8,35.8 110.0,36.7 110.2,35.9 110.5,35.7 110.8,36.6 111.0,35.0 111.2,36.2 111.5,35.0 111.8,36.8 112.0,35.4 112.2,34.9 112.5,36.2 112.8,35.6 113.0,35.7 113.2,33.9 113.5,35.6 113.8,34.1 114.0,32.5 114.2,33.9 114.5,36.3 114.8,34.0 115.0,32.7 115.2,34.3 115.5,32.4 115.8,32.9 116.0,33.1 116.2,33.9 116.5,34.1 116.8,33.7 117.0,33.1 117.2,32.4 117.5,32.5 117.8,33.4 118.0,32.8 118.2,32.3 118.5,35.0 118.8,33.8 119.0,33.8 119.2,32.9 119.5,32.9 119.8,32.9 120.0,33.7 120.2,31.5 120.5,32.0 120.8,34.7 121.0,32.3 121.2,34.0 121.5,29.8 121.8,33.0 122.0,32.9 122.2,32.1 122.5,32.5 122.8,32.3 123.0,29.8 123.2,31.8 123.5,30.9 123.8,30.4 124.0,33.7 124.2,29.4 124.5,31.0 124.8,30.5 125.0,33.5 125.2,30.7 125.5,31.4 125.8,32.9 126.0,28.5 126.2,31.0 126.5,32.4 126.8,31.6 127.0,30.4 127.2,30.0 127.5,30.9 127.8,29.8 128.0,29.3 128.2,34.0 128.5,32.7 128.8,33.5 129.0,31.6 129.2,29.2 129.5,30.5 129.8,33.6 130.0,32.2 130.2,29.7 130.5,32.6 130.8,31.7 131.0,30.9 131.2,34.8 131.5,29.8 131.8,30.5 132.0,30.0 132.2,32.9 132.5,32.4 132.8,31.9 133.0,30.2 133.2,30.4 133.5,30.2 133.8,26.7 134.0,27.6 134.2,31.6 134.5,31.4 134.8,26.4 135.0,30.5 135.2,26.9 135.5,26.3 135.8,30.8 136.0,30.1 136.2,29.3 136.5,31.3 136.8,31.6 137.0,30.3 137.2,27.5 137.5,30.5 137.8,30.0 138.0,30.7 138.2,33.1 138.5,25.5 138.8,35.5 139.0,31.5 139.2,28.0 139.5,33.9 139.8,27.8 140.0,25.7 140.2,32.7 140.5,29.1 140.8,33.9 141.0,28.0 141.2,29.7 141.5,29.3 141.8,24.6 142.0,28.4 142.2,24.7 142.5,28.1 142.8,36.9 143.0,30.3 143.2,29.4 143.5,39.6 143.8,25.5 144.0,32.5 144.2,31.2 144.5,38.8 144.8,33.8 145.0,33.0 145.2,37.3 145.5,35.5 145.8,49.4 146.0,29.1 146.2,44.8 146.5,51.7 146.8,45.5 147.0,45.5 147.2,37.8 147.5,47.7 147.8,41.1 148.0,49.7 148.2,31.4 148.5,41.9 148.8,33.7 149.0,53.4 149.2,43.4 149.5,54.6 149.8,45.4 150.0,45.5 150.2,60.9 150.5,58.6 150.8,59.5 151.0,62.4 151.2,58.1 151.5,60.2 151.8,64.1 152.0,54.7 152.2,52.4 152.5,65.3 152.8,60.9 153.0,57.9 153.2,60.1 153.5,63.9 153.8,54.6 154.0,55.0 154.2,56.7 154.5,63.3 154.8,49.3 155.0,51.6 155.2,66.6 155.5,65.3 155.8,57.3 156.0,71.2 156.2,63.9 156.5,66.9 156.8,72.6 157.0,70.1 157.2,79.8 157.5,73.6 157.8,84.1 158.0,57.2 158.2,61.8 158.5,64.4 158.8,71.4 159.0,67.4 159.2,66.2 159.5,68.6 159.8,70.0 160.0,83.3 160.2,74.8 160.5,82.1 160.8,87.3 161.0,87.7 161.2,77.6 161.5,74.0 161.8,91.4 162.0,70.6 162.2,73.1 162.5,86.6 162.8,87.8 163.0,85.8 163.2,79.1 163.5,89.2 163.8,94.9 164.0,85.4 164.2,102.9 164.5,88.1 164.8,81.5 165.0,88.1 165.2,85.4 165.5,88.0 165.8,86.8 166.0,91.7 166.2,99.5 166.5,95.6 166.8,95.1 167.0,85.5 167.2,83.2 167.5,93.1 167.8,102.9 168.0,103.3 168.2,99.7 168.5,87.5 168.8,96.6 169.0,100.5 169.2,107.0 169.5,93.8 169.8,99.4 170.0,102.9 170.2,102.3 170.5,89.1 170.8,105.8 171.0,90.1 171.2,94.6 171.5,105.8 171.8,98.9 172.0,108.7 172.2,115.8 172.5,111.3 172.8,117.7 173.0,105.3 173.2,110.5 173.5,106.0 173.8,104.2 174.0,131.7 174.2,110.2 174.5,130.2 174.8,112.7 175.0,122.9 175.2,114.5 175.5,103.5 175.8,132.2 176.0,115.3 176.2,118.3 176.5,135.5 176.8,112.6 177.0,118.7 177.2,124.1 177.5,126.4 177.8,100.9 178.0,124.2 178.2,137.5 178.5,129.8 178.8,125.0 179.0,125.5 179.2,123.0 179.5,132.2 179.8,117.9 180.0,127.6 180.2,135.9 180.5,131.2 180.8,127.6 181.0,116.9 181.2,120.5 181.5,128.1 181.8,125.3 182.0,123.9 182.2,108.6 182.5,131.7 182.8,122.8 183.0,121.0 183.2,135.3 183.5,126.1 183.8,126.7 184.0,132.2 184.2,124.1 184.5,120.7 184.8,120.3 185.0,131.2 185.2,128.5 185.5,114.2 185.8,139.0 186.0,129.4 186.2,124.8 186.5,130.6 186.8,127.5 187.0,131.3 187.2,127.7 187.5,124.6 187.8,135.2 188.0,132.8 188.2,134.9 188.5,137.4 188.8,135.4 189.0,142.5 189.2,131.6 189.5,126.4 189.8,126.9 190.0,129.8 190.2,142.7 190.5,129.3 190.8,141.8 191.0,138.6 191.2,128.9 191.5,144.6 191.8,134.9 192.0,138.2 192.2,140.7 192.5,144.5 192.8,138.3 193.0,142.8 193.2,135.8 193.5,135.1 193.8,147.4 194.0,143.3 194.2,142.4 194.5,146.2 194.8,145.9 195.0,140.6 195.2,141.8 195.5,147.8 195.8,143.1 196.0,138.8 196.2,145.6 196.5,144.4 196.8,134.6 197.0,135.7 197.2,146.7 197.5,145.6 197.8,139.2 198.0,144.7 198.2,141.3 198.5,141.9 198.8,138.3 199.0,146.9 199.2,146.6 199.5,143.5 199.8,136.3 200.0,139.6 200.2,144.0 200.5,137.2 200.8,136.3 201.0,138.8 201.2,138.8 201.5,136.3 201.8,133.8 202.0,136.6 202.2,135.2 202.5,136.6 202.8,137.2 203.0,138.4 203.2,134.8 203.5,136.0 203.8,135.5 204.0,132.0 204.2,132.8 204.5,131.5 204.8,137.5 205.0,131.6 205.2,134.1 205.5,134.2 205.8,133.9 206.0,128.5 206.2,129.0 206.5,132.1 206.8,132.5 207.0,129.6 207.2,130.1 207.5,125.3 207.8,131.0 208.0,131.1 208.2,127.7 208.5,126.7 208.8,126.1 209.0,124.6 209.2,122.1 209.5,125.4 209.8,125.2 210.0,126.5 210.2,123.2 210.5,122.0 210.8,123.0 211.0,120.7 211.2,121.8 211.5,119.4 211.8,120.5 212.0,121.8 212.2,120.8 212.5,121.5 212.8,121.3 213.0,118.4 213.2,117.3 213.5,115.7 213.8,117.6 214.0,117.3 214.2,117.9 214.5,115.2 214.8,115.5 215.0,116.1 215.2,114.4 215.5,114.2 215.8,116.2 216.0,113.3 216.2,113.5 216.5,113.6 216.8,113.3 217.0,111.0 217.2,110.9 217.5,110.3 217.8,112.4 218.0,111.7 218.2,110.1 218.5,111.4 218.8,110.7 219.0,111.1 219.2,108.2 219.5,108.4 219.8,108.5 220.0,108.4 220.2,108.4 220.5,108.1 220.8,107.2 221.0,107.6 221.2,106.2 221.5,106.9 221.8,106.8 222.0,105.2 222.2,105.7 222.5,105.0 222.8,105.3 223.0,105.9 223.2,104.1 223.5,104.8 223.8,103.3 224.0,104.3 224.2,104.2 224.5,102.9 224.8,102.6 225.0,102.5 225.2,102.8 225.5,101.6 225.8,102.4 226.0,101.7 226.2,101.6 226.5,101.2 226.8,100.5 227.0,100.8 227.2,100.1 227.5,99.9 227.8,100.5 228.0,100.1 228.2,99.6 228.5,99.4 228.8,98.9 229.0,99.4 229.2,98.4 229.5,98.2 229.8,98.3 230.0,98.4 230.2,97.8 230.5,97.7 230.8,97.2 231.0,97.2 231.2,96.8 231.5,96.9 231.8,96.2 232.0,97.0 232.2,96.5 232.5,95.9 232.8,96.2 233.0,95.5 233.2,95.8 233.5,95.3 233.8,95.4 234.0,95.1 234.2,94.7 234.5,94.6 234.8,94.6 235.0,93.7 235.2,94.1 235.5,94.3 235.8,93.6 236.0,93.5 236.2,93.3 236.5,93.0 236.8,93.6 237.0,92.9 237.2,92.8 237.5,92.9 237.8,92.7 238.0,93.2 238.2,92.7 238.5,92.0 238.8,92.8 239.0,92.3 239.2,92.0 239.5,91.8 239.8,91.4 240.0,92.2 240.2,91.6 240.5,91.2 240.8,91.7 241.0,91.2 241.2,90.6 241.5,90.6 241.8,90.7 242.0,91.2 242.2,90.6 242.5,90.3 242.8,90.4 243.0,90.2 243.2,89.5 243.5,90.0 243.8,90.1 244.0,89.9 244.2,90.2 244.5,90.5 244.8,91.1 245.0,92.0 245.2,93.6 245.5,95.8 245.8,97.4 246.0,98.9 246.2,100.3 246.5,100.2 246.8,99.8 247.0,98.9 247.2,96.6 247.5,94.1 247.8,92.2 248.0,90.9 248.2,89.4 248.5,88.9 248.8,88.5 249.0,87.6 249.2,87.5 249.5,87.3 249.8,87.3 250.0,87.1 250.2,87.3 250.5,86.9 250.8,86.8 251.0,86.9 251.2,86.6 251.5,87.2 251.8,86.9 252.0,86.3 252.2,86.2 252.5,86.5 252.8,86.5 253.0,86.7 253.2,86.3 253.5,86.1 253.8,86.6 254.0,86.1 254.2,86.0 254.5,86.0 254.8,86.3 255.0,85.9 255.2,86.3 255.5,85.5 255.8,85.8 256.0,86.1 256.2,85.4 256.5,85.4 256.8,85.8 257.0,85.1 257.2,85.8 257.5,85.5 257.8,85.4 258.0,86.3 258.2,86.0 258.5,86.9 258.8,88.0 259.0,89.6 259.2,90.9 259.5,92.8 259.8,93.9 260.0,94.2 260.2,93.9 260.5,92.1 260.8,91.1 261.0,89.2 261.2,87.6 261.5,86.4 261.8,85.5 262.0,85.0 262.2,85.0 262.5,84.9 262.8,84.7 263.0,84.4 263.2,84.4 263.5,84.7 263.8,85.0 264.0,84.0 264.2,84.3 264.5,84.4 264.8,84.3 265.0,84.5 265.2,84.6 265.5,84.4 265.8,84.4 266.0,84.5 266.2,84.6 266.5,84.3 266.8,84.1 267.0,84.3 267.2,84.2 267.5,84.7 267.8,84.2 268.0,84.2 268.2,84.4 268.5,84.5 268.8,84.0 269.0,84.3 269.2,84.0 269.5,84.2 269.8,83.9 270.0,84.1 270.2,84.4 270.5,84.0 270.8,84.1 271.0,83.9 271.2,84.1 271.5,84.1 271.8,83.8 272.0,83.7 272.2,83.8 272.5,83.8 272.8,83.9 273.0,83.8 273.2,83.8 273.5,83.9 273.8,84.0 274.0,84.0 274.2,83.5 274.5,84.0 274.8,84.1 275.0,84.1 275.2,84.0 275.5,83.9 275.8,84.2 276.0,84.4 276.2,83.9 276.5,84.4 276.8,83.9 277.0,84.0 277.2,83.7 277.5,83.6 277.8,83.9 278.0,84.1 278.2,84.3 278.5,84.2 278.8,84.0 279.0,84.4 279.2,84.0 279.5,84.0 279.8,83.9 280.0,84.1 280.2,84.0 280.5,84.2 280.8,84.1 281.0,84.4 281.2,84.0 281.5,83.7 281.8,84.0 282.0,83.9 282.2,84.2 282.5,83.7 282.8,84.2 283.0,83.8 283.2,84.0 283.5,84.2 283.8,83.8 284.0,84.0 284.2,84.0 284.5,83.9 284.8,84.0 285.0,84.1 285.2,83.9 285.5,84.1 285.8,84.0 286.0,84.1 286.2,84.3 286.5,84.1 286.8,84.1 287.0,84.0 287.2,83.8 287.5,84.3 287.8,84.0 288.0,84.4 288.2,84.2 288.5,84.1 288.8,84.4 289.0,84.4 289.2,84.0 289.5,84.0 289.8,84.0 290.0,84.2 290.2,83.6 290.5,84.0 290.8,84.2 291.0,83.7 291.2,83.9 291.5,84.1 291.8,83.8 292.0,84.0 292.2,83.9 292.5,84.0 292.8,84.2 293.0,83.8 293.2,84.0 293.5,84.2 293.8,84.2 294.0,83.8 294.2,84.1 294.5,84.0 294.8,83.9 295.0,84.0 295.2,84.3 295.5,83.9 295.8,83.8 296.0,83.8 296.2,83.7 296.5,83.9 296.8,83.8 297.0,83.7 297.2,84.1 297.5,83.7 297.8,83.7 298.0,83.8 298.2,83.6 298.5,83.8 298.8,84.2 299.0,83.8 299.2,83.9 299.5,83.9 299.8,84.0 300.0,83.7 300.2,83.9 300.5,84.1 300.8,83.9 301.0,83.9 301.2,84.1 301.5,84.1 301.8,84.1 302.0,84.1 302.2,83.9 302.5,83.8 302.8,83.6 303.0,83.8 303.2,83.8 303.5,83.8 303.8,83.7 304.0,84.1 304.2,83.9 304.5,83.9 304.8,84.0 305.0,84.1 305.2,84.1 305.5,84.1 305.8,84.2 306.0,83.9 306.2,84.0 306.5,84.0 306.8,83.9 307.0,83.9 307.2,84.1 307.5,84.0 307.8,84.3 308.0,84.4 308.2,84.4 308.5,83.7 308.8,84.3 309.0,83.9 309.2,83.7 309.5,84.1 309.8,83.7 310.0,83.7 310.2,83.8 310.5,83.6 310.8,83.9 311.0,84.1 311.2,83.9 311.5,84.1 311.8,84.2 312.0,84.2 312.2,83.6 312.5,84.1 312.8,84.0 313.0,84.1 313.2,84.0 313.5,84.0 313.8,84.1 314.0,84.2 314.2,84.2 314.5,84.1 314.8,83.9 315.0,83.6 315.2,83.8 315.5,83.7 315.8,83.9 316.0,84.0 316.2,84.2 316.5,84.0 316.8,84.4 317.0,84.0 317.2,83.7 317.5,83.9 317.8,83.8 318.0,84.1 318.2,84.2 318.5,84.1 318.8,84.1 319.0,83.8 319.2,83.7 319.5,84.1 319.8,84.1 320.0,84.0 320.2,84.1 320.5,84.2 320.8,84.0 321.0,83.9 321.2,83.9 321.5,84.2 321.8,84.0 322.0,84.3 322.2,83.8 322.5,84.2 322.8,84.0 323.0,84.1 323.2,84.1 323.5,84.2 323.8,84.3 324.0,83.7 324.2,84.0 324.5,84.0 324.8,83.7 325.0,84.0 325.2,83.9 325.5,84.0 325.8,83.8 326.0,83.9 326.2,83.9 326.5,84.0 326.8,83.9 327.0,83.8 327.2,84.3 327.5,84.0 327.8,84.1" stroke="#ff0000" stroke-width="2"/>
</g>
<g fill="none" stroke-linejoin="round" stroke-linecap="round">
<path d="M35.50,307.17L36.20,306.92 36.90,307.38 37.60,307.14 38.30,307.27 39.00,307.24 39.70,307.07 40.40,307.29 41.10,307.08 41.80,307.25 42.50,307.37 43.20,307.44 43.90,307.46 44.60,307.45 45.30,307.83 46.00,307.58 46.70,307.33 47.40,307.44 48.10,307.45 48.80,307.55 49.50,307.50 50.20,307.47 50.90,307.89 51.60,307.65 52.30,307.61 53.00,307.64 53.70,307.66 54.40,307.94 55.10,307.81 55.80,307.94 56.50,307.43 57.20,307.84 57.90,307.98 58.60,308.14 59.30,307.84 60.00,307.58 60.70,307.96 61.40,307.78 62.10,307.60 62.80,307.79 63.50,308.07 64.20,308.10 64.90,308.02 65.60,307.73 66.30,308.23 67.00,307.70 67.70,307.87 68.40,307.63 69.10,308.06 69.80,307.90 70.50,307.95 71.20,307.79 71.90,307.74 72.60,307.75 73.30,307.38 74.00,307.82 74.70,307.77 75.40,307.52 76.10,307.52 76.80,307.49 77.50,307.61 78.20,307.33 78.90,307.16 79.60,306.98 80.30,306.72 81.00,306.78 81.70,306.81 82.40,306.67 83.10,306.63 83.80,306.63 84.50,306.47 85.20,306.31 85.90,306.22 86.60,305.97 87.30,305.73 88.00,305.58 88.70,304.96 89.40,305.11 90.10,304.33 90.80,304.27 91.50,303.67 92.20,303.30 92.90,302.52 93.60,301.72 94.30,301.41 95.00,300.64 95.70,299.98 96.40,299.24 97.10,298.54 97.80,297.44 98.50,296.08 99.20,294.38 99.90,293.05 100.60,291.40 101.30,289.83 102.00,287.73 102.70,285.70 103.40,283.97 104.10,281.87 104.80,280.00 105.50,278.23 106.20,276.31 106.90,275.21 107.60,273.71 108.30,272.23 109.00,270.74 109.70,269.66 110.40,268.59 111.10,266.98 111.80,265.65 112.50,264.66 113.20,263.07 113.90,261.73 114.60,260.79 115.30,259.48 116.00,258.26 116.70,256.92 117.40,255.80 118.10,254.43 118.80,253.11 119.50,251.90 120.20,250.88 120.90,249.66 121.60,248.35 122.30,246.98 123.00,244.96 123.70,243.88 124.40,242.68 125.10,241.44 125.80,239.58 126.50,239.04 127.20,237.33 127.90,235.66 128.60,234.49 129.30,232.92 130.00,231.36 130.70,230.41 131.40,228.65 132.10,226.86 132.80,225.76 133.50,224.58 134.20,222.73 134.90,222.43 135.60,219.89 136.30,219.95 137.00,218.13 137.70,215.72 138.40,214.94 139.10,214.20 139.80,211.94 140.50,209.85 141.20,209.30 141.90,209.22 142.60,205.16 143.30,205.25 144.00,203.35 144.70,201.79 145.40,200.12 146.10,198.76 146.80,198.58 147.50,196.76 148.20,193.81 148.90,195.04 149.60,190.88 150.30,191.80 151.00,190.23 151.70,190.33 152.40,188.43 153.10,188.31 153.80,186.20 154.50,186.57 155.20,185.09 155.90,186.44 156.60,182.49 157.30,184.20 158.00,182.73 158.70,181.82 159.40,180.35 160.10,181.07 160.80,178.13 161.50,177.72 162.20,179.75 162.90,176.45 163.60,179.62 164.30,177.12 165.00,177.38 165.70,176.85 166.40,176.92 167.10,175.80 167.80,175.42 168.50,175.47 169.20,176.58 169.90,176.57 170.60,176.71 171.30,175.84 172.00,175.39 172.70,174.14 173.40,176.51 174.10,176.86 174.80,175.96 175.50,177.20 176.20,177.85 176.90,177.22 177.60,178.32 178.30,178.17 179.00,177.18 179.70,178.53 180.40,179.06 181.10,180.17 181.80,179.91 182.50,180.78 183.20,181.16 183.90,182.36 184.60,183.14 185.30,184.33 186.00,185.05 186.70,185.64 187.40,186.61 188.10,187.56 188.80,188.62 189.50,190.25 190.20,190.12 190.90,192.11 191.60,193.68 192.30,195.43 193.00,196.35 193.70,198.40 194.40,200.23 195.10,201.69 195.80,203.23 196.50,205.58 197.20,207.38 197.90,209.81 198.60,211.52 199.30,214.17 200.00,215.95 200.70,217.91 201.40,220.18 202.10,222.35 202.80,224.97 203.50,227.50 204.20,229.47 204.90,232.01 205.60,234.06 206.30,236.60 207.00,239.03 207.70,240.26 208.40,242.31 209.10,243.75 209.80,244.58 210.50,245.95 211.20,247.31 211.90,248.97 212.60,250.15 213.30,251.68 214.00,253.34 214.70,254.78 215.40,256.35 216.10,257.81 216.80,259.59 217.50,260.81 218.20,262.72 218.90,263.90 219.60,265.35 220.30,267.10 221.00,268.56 221.70,269.63 222.40,271.39 223.10,272.48 223.80,273.88 224.50,275.44 225.20,276.45 225.90,277.87 226.60,278.91 227.30,280.35 228.00,281.00 228.70,281.70 229.40,282.54 230.10,283.35 230.80,284.25 231.50,284.93 232.20,285.77 232.90,286.30 233.60,286.96 234.30,287.65 235.00,288.22 235.70,288.93 236.40,289.63 237.10,290.23 237.80,290.60 238.50,290.95 239.20,291.63 239.90,292.29 240.60,292.36 241.30,293.08 242.00,293.67 242.70,293.93 243.40,294.26 244.10,295.17 244.80,295.68 245.50,296.62 246.20,299.02 246.90,300.27 247.60,298.94 248.30,298.33 249.00,297.72 249.70,298.12 250.40,298.33 251.10,298.85 251.80,298.95 252.50,299.47 253.20,299.95 253.90,300.10 254.60,300.31 255.30,300.88 256.00,300.76 256.70,301.35 257.40,301.43 258.10,301.93 258.80,302.84 259.50,304.37 260.20,304.97 260.90,304.01 261.60,303.29 262.30,303.39 263.00,303.47 263.70,303.50 264.40,303.75 265.10,303.92 265.80,304.17 266.50,304.36 267.20,304.49 267.90,304.51 268.60,304.76 269.30,304.67 270.00,304.67 270.70,305.14 271.40,305.00 272.10,305.23 272.80,305.30 273.50,305.70 274.20,305.51 274.90,305.84 275.60,305.81 276.30,305.77 277.00,305.79 277.70,306.19 278.40,306.25 279.10,306.37 279.80,306.59 280.50,306.38 281.20,306.42 281.90,306.40 282.60,306.48 283.30,306.45 284.00,306.40 284.70,306.91 285.40,306.32 286.10,306.70 286.80,306.76 287.50,306.75 288.20,306.60 288.90,306.75 289.60,306.73 290.30,306.65 291.00,306.84 291.70,306.80 292.40,306.79 293.10,307.00 293.80,306.72 294.50,306.97 295.20,306.80 295.90,306.97 296.60,306.91 297.30,306.94 298.00,306.74 298.70,306.77 299.40,306.76 300.10,306.93 300.80,307.02 301.50,307.07 302.20,306.82 302.90,306.91 303.60,306.63 304.30,306.55 305.00,306.75 305.70,306.78 306.40,306.64 307.10,306.60 307.80,306.97 308.50,306.75 309.20,306.60 309.90,307.21 310.60,306.89 311.30,306.81 312.00,306.97 312.70,306.73 313.40,307.10 314.10,306.59 314.80,306.62 315.50,306.80 316.20,306.69 316.90,307.04 317.60,306.54 318.30,306.67 319.00,306.82 319.70,306.86 320.40,306.92 321.10,306.80 321.80,307.08 322.50,306.65 323.20,306.74 323.90,306.83 324.60,306.63 325.30,306.62 326.00,306.57 326.70,306.52 327.40,306.43" stroke="#0000ff" stroke-width="2"/>
<path d="M35.50,307.12L36.20,306.98 36.90,307.31 37.60,307.01 38.30,307.62 39.00,307.58 39.70,307.51 40.40,307.32 41.10,307.27 41.80,307.59 42.50,307.44 43.20,307.52 43.90,307.33 44.60,307.63 45.30,307.35 46.00,307.51 46.70,307.23 47.40,307.43 48.10,307.63 48.80,307.49 49.50,307.51 50.20,307.72 50.90,307.60 51.60,307.83 52.30,307.32 53.00,307.76 53.70,307.77 54.40,307.46 55.10,307.51 55.80,307.88 56.50,307.59 57.20,307.67 57.90,307.89 58.60,307.76 59.30,307.90 60.00,307.70 60.70,307.90 61.40,308.04 62.10,307.92 62.80,307.55 63.50,307.99 64.20,307.90 64.90,307.75 65.60,308.11 66.30,307.60 67.00,308.18 67.70,307.76 68.40,308.10 69.10,307.83 69.80,307.60 70.50,307.80 71.20,307.82 71.90,307.82 72.60,307.88 73.30,307.53 74.00,307.72 74.70,307.73 75.40,307.52 76.10,307.35 76.80,307.27 77.50,307.45 78.20,307.36 78.90,306.99 79.60,306.81 80.30,307.12 81.00,306.58 81.70,306.76 82.40,306.50 83.10,306.24 83.80,306.42 84.50,306.24 85.20,306.35 85.90,306.30 86.60,305.71 87.30,305.67 88.00,305.41 88.70,304.84 89.40,304.40 90.10,304.36 90.80,303.57 91.50,303.12 92.20,302.50 92.90,301.90 93.60,301.15 94.30,300.68 95.00,300.05 95.70,299.02 96.40,297.99 97.10,297.17 97.80,295.61 98.50,294.25 99.20,292.88 99.90,291.23 100.60,288.95 101.30,286.71 102.00,285.06 102.70,282.61 103.40,280.88 104.10,279.35 104.80,277.36 105.50,275.23 106.20,273.54 106.90,272.45 107.60,270.88 108.30,269.43 109.00,268.25 109.70,266.78 110.40,265.29 111.10,264.50 111.80,262.99 112.50,261.68 113.20,260.37 113.90,259.40 114.60,257.94 115.30,256.91 116.00,255.44 116.70,254.38 117.40,252.79 118.10,251.43 118.80,249.87 119.50,248.75 120.20,247.81 120.90,246.78 121.60,244.66 122.30,243.31 123.00,242.22 123.70,240.85 124.40,239.15 125.10,237.92 125.80,236.05 126.50,234.98 127.20,233.89 127.90,232.69 128.60,230.69 129.30,229.20 130.00,227.99 130.70,226.78 131.40,225.12 132.10,223.20 132.80,222.23 133.50,221.10 134.20,218.97 134.90,217.29 135.60,216.81 136.30,215.39 137.00,214.37 137.70,212.54 138.40,210.75 139.10,209.50 139.80,207.73 140.50,206.37 141.20,205.22 141.90,203.85 142.60,203.62 143.30,200.38 144.00,199.89 144.70,198.02 145.40,198.41 146.10,195.98 146.80,194.01 147.50,193.77 148.20,191.74 148.90,189.93 149.60,190.81 150.30,188.91 151.00,189.03 151.70,187.49 152.40,186.18 153.10,184.62 153.80,182.43 154.50,183.82 155.20,182.47 155.90,182.64 156.60,181.31 157.30,180.00 158.00,179.16 158.70,180.82 159.40,181.14 160.10,178.78 160.80,179.31 161.50,180.11 162.20,177.07 162.90,177.40 163.60,176.23 164.30,178.81 165.00,177.56 165.70,176.59 166.40,175.12 167.10,176.75 167.80,178.02 168.50,176.58 169.20,176.49 169.90,177.71 170.60,175.93 171.30,177.42 172.00,178.16 172.70,177.08 173.40,177.31 174.10,178.56 174.80,178.53 175.50,178.70 176.20,179.39 176.90,179.76 177.60,179.30 178.30,179.95 179.00,181.20 179.70,182.13 180.40,182.77 181.10,181.97 181.80,183.77 182.50,184.25 183.20,184.54 183.90,185.57 184.60,186.52 185.30,187.78 186.00,187.35 186.70,189.03 187.40,189.74 188.10,190.84 188.80,192.57 189.50,193.75 190.20,194.48 190.90,196.19 191.60,197.88 192.30,199.00 193.00,201.35 193.70,202.80 194.40,204.62 195.10,206.48 195.80,208.72 196.50,210.18 197.20,212.01 197.90,214.41 198.60,215.89 199.30,217.92 200.00,219.85 200.70,222.51 201.40,224.53 202.10,226.76 202.80,228.85 203.50,230.91 204.20,232.86 204.90,234.93 205.60,237.24 206.30,239.22 207.00,241.38 207.70,242.64 208.40,244.20 209.10,245.52 209.80,247.28 210.50,248.16 211.20,249.82 211.90,251.28 212.60,252.44 213.30,254.05 214.00,255.08 214.70,256.86 215.40,258.15 216.10,259.94 216.80,261.40 217.50,262.75 218.20,264.47 218.90,265.82 219.60,267.13 220.30,268.57 221.00,269.83 221.70,271.41 222.40,273.12 223.10,273.95 223.80,275.38 224.50,276.46 225.20,277.88 225.90,278.97 226.60,279.96 227.30,280.75 228.00,281.90 228.70,283.04 229.40,283.63 230.10,284.54 230.80,285.09 231.50,285.56 232.20,286.60 232.90,287.24 233.60,287.74 234.30,288.41 235.00,289.14 235.70,289.61 236.40,290.35 237.10,290.83 237.80,291.08 238.50,291.92 239.20,292.34 239.90,292.78 240.60,293.42 241.30,293.71 242.00,294.30 242.70,294.79 243.40,295.05 244.10,295.19 244.80,295.88 245.50,297.33 246.20,299.26 246.90,300.41 247.60,299.57 248.30,298.53 249.00,298.34 249.70,298.68 250.40,298.78 251.10,299.20 251.80,299.52 252.50,299.86 253.20,299.82 253.90,300.40 254.60,300.50 255.30,301.21 256.00,301.50 256.70,301.79 257.40,301.93 258.10,302.13 258.80,303.28 259.50,304.60 260.20,305.34 260.90,304.24 261.60,303.53 262.30,303.62 263.00,303.99 263.70,303.89 264.40,304.41 265.10,304.56 265.80,304.16 266.50,304.50 267.20,304.49 267.90,304.75 268.60,304.82 269.30,305.02 270.00,305.31 270.70,305.43 271.40,305.43 272.10,305.50 272.80,305.63 273.50,305.73 274.20,305.90 274.90,305.90 275.60,306.06 276.30,305.85 277.00,306.26 277.70,306.48 278.40,306.29 279.10,306.09 279.80,306.58 280.50,306.35 281.20,306.10 281.90,306.45 282.60,306.62 283.30,306.62 284.00,306.79 284.70,306.73 285.40,306.68 286.10,306.38 286.80,306.55 287.50,306.79 288.20,306.89 288.90,306.65 289.60,306.74 290.30,306.93 291.00,306.57 291.70,306.58 292.40,306.86 293.10,306.95 293.80,306.84 294.50,306.58 295.20,306.93 295.90,306.71 296.60,307.03 297.30,306.91 298.00,306.97 298.70,307.03 299.40,306.84 300.10,307.05 300.80,307.12 301.50,306.98 302.20,307.13 302.90,306.82 303.60,307.07 304.30,306.96 305.00,306.76 305.70,306.90 306.40,306.83 307.10,306.82 307.80,306.92 308.50,307.08 309.20,306.85 309.90,306.92 310.60,306.66 311.30,306.91 312.00,307.08 312.70,307.02 313.40,306.96 314.10,306.79 314.80,306.71 315.50,306.84 316.20,306.63 316.90,306.64 317.60,306.98 318.30,306.67 319.00,307.09 319.70,306.56 320.40,306.85 321.10,306.58 321.80,306.78 322.50,306.57 323.20,306.73 323.90,306.68 324.60,306.62 325.30,306.75 326.00,306.90 326.70,306.54 327.40,306.76" stroke="#808080" stroke-width="1.8"/>
<path d="M35.50,307.23L36.20,307.23 36.90,307.60 37.60,306.94 38.30,307.19 39.00,307.02 39.70,307.28 40.40,307.32 41.10,307.72 41.80,307.45 42.50,307.70 43.20,307.64 43.90,307.38 44.60,307.54 45.30,307.75 46.00,307.53 46.70,307.55 47.40,307.62 48.10,307.31 48.80,307.44 49.50,307.64 50.20,307.69 50.90,307.47 51.60,307.58 52.30,307.64 53.00,307.65 53.70,307.80 54.40,307.73 55.10,307.76 55.80,307.52 56.50,307.60 57.20,307.84 57.90,307.54 58.60,307.86 59.30,307.73 60.00,307.71 60.70,307.96 61.40,307.76 62.10,307.74 62.80,307.78 63.50,307.90 64.20,308.24 64.90,307.56 65.60,307.89 66.30,307.85 67.00,308.04 67.70,307.81 68.40,307.52 69.10,308.05 69.80,307.64 70.50,307.79 71.20,307.55 71.90,307.57 72.60,307.63 73.30,307.82 74.00,307.78 74.70,307.52 75.40,307.65 76.10,307.45 76.80,307.45 77.50,307.36 78.20,307.33 78.90,307.02 79.60,306.99 80.30,306.94 81.00,306.81 81.70,306.56 82.40,306.85 83.10,306.37 83.80,306.43 84.50,306.20 85.20,306.19 85.90,305.46 86.60,305.90 87.30,305.26 88.00,304.80 88.70,304.65 89.40,304.52 90.10,303.76 90.80,302.95 91.50,302.52 92.20,302.22 92.90,301.12 93.60,300.62 94.30,299.85 95.00,299.44 95.70,298.17 96.40,297.42 97.10,295.86 97.80,294.29 98.50,292.85 99.20,290.84 99.90,288.39 100.60,286.52 101.30,284.36 102.00,282.12 102.70,280.24 103.40,278.27 104.10,276.25 104.80,274.39 105.50,272.62 106.20,271.06 106.90,269.37 107.60,268.16 108.30,266.55 109.00,265.47 109.70,264.15 110.40,262.73 111.10,261.80 111.80,260.74 112.50,259.37 113.20,257.64 113.90,256.84 114.60,255.37 115.30,254.01 116.00,252.58 116.70,251.36 117.40,250.28 118.10,248.78 118.80,247.25 119.50,245.85 120.20,244.52 120.90,243.32 121.60,242.17 122.30,240.07 123.00,238.84 123.70,237.29 124.40,235.73 125.10,234.56 125.80,233.14 126.50,231.13 127.20,229.75 127.90,228.93 128.60,227.19 129.30,225.77 130.00,223.91 130.70,222.45 131.40,221.27 132.10,219.43 132.80,217.73 133.50,216.79 134.20,215.83 134.90,213.59 135.60,213.27 136.30,211.80 137.00,209.65 137.70,208.81 138.40,207.46 139.10,206.54 139.80,205.23 140.50,202.58 141.20,201.16 141.90,201.48 142.60,199.44 143.30,198.31 144.00,196.89 144.70,196.54 145.40,192.85 146.10,193.53 146.80,190.47 147.50,190.61 148.20,189.99 148.90,186.11 149.60,186.79 150.30,185.07 151.00,184.13 151.70,183.63 152.40,181.58 153.10,180.89 153.80,182.05 154.50,181.69 155.20,179.57 155.90,178.10 156.60,182.06 157.30,180.44 158.00,179.22 158.70,177.22 159.40,177.48 160.10,178.22 160.80,176.52 161.50,179.52 162.20,177.64 162.90,177.92 163.60,176.22 164.30,176.42 165.00,176.63 165.70,177.97 166.40,177.47 167.10,177.61 167.80,178.47 168.50,178.57 169.20,180.14 169.90,178.62 170.60,178.07 171.30,179.38 172.00,181.11 172.70,179.50 173.40,180.39 174.10,180.36 174.80,181.37 175.50,181.59 176.20,181.10 176.90,181.96 177.60,183.25 178.30,183.78 179.00,184.11 179.70,184.56 180.40,184.35 181.10,184.98 181.80,186.45 182.50,186.03 183.20,187.46 183.90,187.39 184.60,189.00 185.30,189.74 186.00,190.48 186.70,192.27 187.40,192.83 188.10,194.23 188.80,195.66 189.50,197.00 190.20,199.30 190.90,200.27 191.60,202.14 192.30,203.41 193.00,205.44 193.70,207.28 194.40,209.10 195.10,210.87 195.80,212.89 196.50,215.07 197.20,216.51 197.90,218.37 198.60,220.23 199.30,222.75 200.00,224.71 200.70,226.64 201.40,228.82 202.10,230.65 202.80,232.74 203.50,234.71 204.20,236.53 204.90,238.16 205.60,239.98 206.30,241.97 207.00,243.59 207.70,244.69 208.40,246.49 209.10,248.07 209.80,249.11 210.50,250.60 211.20,251.67 211.90,253.43 212.60,254.54 213.30,255.97 214.00,257.59 214.70,259.45 215.40,260.45 216.10,261.78 216.80,263.48 217.50,264.86 218.20,266.48 218.90,267.39 219.60,268.71 220.30,270.27 221.00,271.71 221.70,273.01 222.40,274.39 223.10,275.20 223.80,276.50 224.50,277.77 225.20,279.05 225.90,280.08 226.60,280.98 227.30,281.88 228.00,283.10 228.70,283.97 229.40,284.97 230.10,285.36 230.80,286.37 231.50,286.61 232.20,287.39 232.90,288.01 233.60,288.67 234.30,289.22 235.00,289.88 235.70,290.53 236.40,291.03 237.10,291.75 237.80,292.15 238.50,292.66 239.20,293.37 239.90,293.63 240.60,294.04 241.30,294.43 242.00,294.85 242.70,295.32 243.40,295.49 244.10,296.20 244.80,296.79 245.50,297.90 246.20,299.73 246.90,300.77 247.60,299.99 248.30,298.93 249.00,298.87 249.70,298.98 250.40,299.28 251.10,299.89 251.80,299.85 252.50,300.43 253.20,300.69 253.90,300.62 254.60,301.14 255.30,301.27 256.00,301.46 256.70,301.58 257.40,301.89 258.10,302.59 258.80,303.37 259.50,304.96 260.20,305.35 260.90,304.60 261.60,303.83 262.30,303.54 263.00,303.67 263.70,304.18 264.40,304.29 265.10,304.27 265.80,304.53 266.50,304.79 267.20,305.10 267.90,304.80 268.60,305.16 269.30,305.52 270.00,305.31 270.70,305.65 271.40,305.19 272.10,305.86 272.80,305.73 273.50,305.53 274.20,306.04 274.90,306.17 275.60,306.27 276.30,306.35 277.00,306.22 277.70,306.17 278.40,306.27 279.10,306.39 279.80,306.50 280.50,306.40 281.20,306.52 281.90,306.68 282.60,306.63 283.30,306.96 284.00,306.99 284.70,306.50 285.40,306.62 286.10,306.53 286.80,306.58 287.50,306.88 288.20,306.66 288.90,306.68 289.60,306.82 290.30,307.01 291.00,306.84 291.70,306.86 292.40,307.07 293.10,307.01 293.80,307.01 294.50,307.10 295.20,306.78 295.90,306.98 296.60,306.84 297.30,307.11 298.00,307.07 298.70,306.78 299.40,307.16 300.10,306.76 300.80,307.13 301.50,306.98 302.20,306.80 302.90,306.77 303.60,306.89 304.30,306.94 305.00,306.83 305.70,307.03 306.40,306.72 307.10,306.94 307.80,306.94 308.50,306.64 309.20,306.98 309.90,306.73 310.60,306.59 311.30,306.83 312.00,306.88 312.70,307.06 313.40,306.83 314.10,307.14 314.80,307.12 315.50,307.06 316.20,307.09 316.90,306.92 317.60,306.76 318.30,306.94 319.00,306.98 319.70,306.85 320.40,306.76 321.10,306.53 321.80,306.87 322.50,306.80 323.20,306.52 323.90,306.73 324.60,306.81 325.30,306.66 326.00,306.78 326.70,306.75 327.40,306.38" stroke="#4a4a4a" stroke-width="1.8"/>
<path d="M35.50,307.16L36.20,307.31 36.90,307.40 37.60,307.50 38.30,306.99 39.00,307.30 39.70,307.45 40.40,307.55 41.10,307.64 41.80,307.24 42.50,307.35 43.20,307.26 43.90,307.58 44.60,307.25 45.30,307.67 46.00,307.65 46.70,307.59 47.40,307.20 48.10,307.44 48.80,307.69 49.50,307.36 50.20,307.56 50.90,307.60 51.60,307.78 52.30,307.70 53.00,307.71 53.70,307.62 54.40,307.71 55.10,307.70 55.80,307.86 56.50,307.73 57.20,307.95 57.90,307.53 58.60,308.01 59.30,307.80 60.00,308.02 60.70,307.87 61.40,308.00 62.10,308.12 62.80,307.80 63.50,307.90 64.20,307.87 64.90,307.93 65.60,307.63 66.30,307.86 67.00,307.84 67.70,307.74 68.40,307.82 69.10,307.59 69.80,308.04 70.50,307.87 71.20,308.07 71.90,307.60 72.60,307.52 73.30,307.72 74.00,307.38 74.70,307.65 75.40,307.46 76.10,307.45 76.80,307.46 77.50,307.33 78.20,307.51 78.90,307.20 79.60,306.78 80.30,307.03 81.00,306.54 81.70,306.65 82.40,306.31 83.10,306.24 83.80,306.43 84.50,305.96 85.20,305.76 85.90,305.55 86.60,305.33 87.30,305.31 88.00,304.56 88.70,304.13 89.40,303.91 90.10,303.00 90.80,302.60 91.50,302.25 92.20,301.45 92.90,300.70 93.60,299.93 94.30,299.08 95.00,298.25 95.70,297.37 96.40,296.40 97.10,294.93 97.80,292.90 98.50,290.90 99.20,288.91 99.90,286.16 100.60,283.87 101.30,281.56 102.00,279.32 102.70,277.29 103.40,275.51 104.10,273.28 104.80,271.58 105.50,269.89 106.20,268.39 106.90,266.63 107.60,265.61 108.30,264.01 109.00,262.68 109.70,261.37 110.40,260.07 111.10,258.78 111.80,257.89 112.50,256.46 113.20,255.14 113.90,254.04 114.60,252.43 115.30,251.35 116.00,249.89 116.70,248.36 117.40,247.30 118.10,245.49 118.80,244.52 119.50,242.80 120.20,241.63 120.90,240.37 121.60,238.69 122.30,236.92 123.00,235.52 123.70,233.92 124.40,232.21 125.10,230.70 125.80,229.49 126.50,228.12 127.20,225.94 127.90,224.91 128.60,223.57 129.30,221.91 130.00,219.98 130.70,219.14 131.40,216.77 132.10,215.98 132.80,214.93 133.50,212.00 134.20,211.64 134.90,210.35 135.60,209.02 136.30,207.24 137.00,206.19 137.70,204.30 138.40,203.87 139.10,202.81 139.80,200.75 140.50,199.24 141.20,198.20 141.90,197.20 142.60,195.93 143.30,194.48 144.00,193.30 144.70,190.84 145.40,188.85 146.10,189.85 146.80,189.31 147.50,185.44 148.20,184.97 148.90,184.79 149.60,184.41 150.30,183.15 151.00,182.99 151.70,180.80 152.40,180.56 153.10,179.87 153.80,178.32 154.50,179.72 155.20,178.74 155.90,178.90 156.60,177.04 157.30,178.53 158.00,175.81 158.70,177.39 159.40,174.27 160.10,175.38 160.80,177.45 161.50,176.07 162.20,176.97 162.90,175.03 163.60,179.07 164.30,178.21 165.00,177.75 165.70,178.56 166.40,178.81 167.10,180.41 167.80,179.48 168.50,178.10 169.20,179.85 169.90,181.86 170.60,181.52 171.30,180.93 172.00,182.33 172.70,182.25 173.40,183.10 174.10,181.57 174.80,182.61 175.50,184.33 176.20,184.03 176.90,184.89 177.60,186.50 178.30,185.30 179.00,186.18 179.70,186.20 180.40,186.78 181.10,187.83 181.80,187.82 182.50,188.38 183.20,191.11 183.90,191.25 184.60,192.76 185.30,193.22 186.00,194.23 186.70,195.53 187.40,196.72 188.10,197.33 188.80,199.79 189.50,200.69 190.20,202.86 190.90,205.28 191.60,206.35 192.30,208.65 193.00,209.92 193.70,212.07 194.40,213.78 195.10,215.72 195.80,217.22 196.50,218.99 197.20,221.06 197.90,222.43 198.60,224.43 199.30,226.67 200.00,228.49 200.70,230.58 201.40,232.66 202.10,234.92 202.80,236.64 203.50,238.43 204.20,239.97 204.90,241.88 205.60,242.99 206.30,244.20 207.00,245.99 207.70,247.33 208.40,248.69 209.10,249.74 209.80,251.56 210.50,252.74 211.20,254.12 211.90,255.28 212.60,257.04 213.30,258.40 214.00,260.06 214.70,261.20 215.40,262.47 216.10,264.06 216.80,265.26 217.50,266.83 218.20,267.92 218.90,269.39 219.60,270.67 220.30,271.97 221.00,273.14 221.70,274.32 222.40,275.64 223.10,276.72 223.80,277.96 224.50,278.99 225.20,279.76 225.90,281.10 226.60,282.31 227.30,283.08 228.00,284.03 228.70,284.85 229.40,285.50 230.10,286.12 230.80,287.18 231.50,287.90 232.20,288.49 232.90,289.10 233.60,289.71 234.30,290.24 235.00,290.86 235.70,291.37 236.40,291.95 237.10,292.26 237.80,292.80 238.50,293.45 239.20,293.76 239.90,293.93 240.60,294.69 241.30,294.74 242.00,295.75 242.70,295.94 243.40,296.30 244.10,296.47 244.80,296.91 245.50,298.20 246.20,300.32 246.90,301.39 247.60,300.55 248.30,299.46 249.00,299.27 249.70,299.27 250.40,299.41 251.10,300.05 251.80,300.25 252.50,300.72 253.20,301.19 253.90,301.46 254.60,301.51 255.30,301.89 256.00,302.22 256.70,302.21 257.40,302.50 258.10,302.97 258.80,303.73 259.50,305.13 260.20,305.68 260.90,304.91 261.60,304.02 262.30,304.14 263.00,304.10 263.70,304.55 264.40,304.66 265.10,304.41 265.80,304.90 266.50,304.80 267.20,305.19 267.90,305.18 268.60,305.21 269.30,305.44 270.00,305.36 270.70,305.60 271.40,305.71 272.10,305.73 272.80,305.90 273.50,305.78 274.20,306.11 274.90,305.91 275.60,306.27 276.30,306.32 277.00,306.42 277.70,306.28 278.40,306.77 279.10,306.43 279.80,306.53 280.50,306.42 281.20,306.79 281.90,306.53 282.60,306.79 283.30,306.52 284.00,306.75 284.70,306.67 285.40,306.90 286.10,306.74 286.80,306.67 287.50,306.90 288.20,306.67 288.90,306.73 289.60,307.01 290.30,306.62 291.00,307.04 291.70,306.88 292.40,306.81 293.10,306.99 293.80,307.06 294.50,306.88 295.20,306.94 295.90,307.09 296.60,307.08 297.30,306.96 298.00,306.85 298.70,306.82 299.40,306.88 300.10,307.07 300.80,307.06 301.50,307.01 302.20,307.18 302.90,306.92 303.60,306.91 304.30,306.91 305.00,307.26 305.70,306.65 306.40,307.01 307.10,307.03 307.80,306.97 308.50,307.31 309.20,307.14 309.90,307.08 310.60,306.82 311.30,307.03 312.00,306.90 312.70,306.96 313.40,306.97 314.10,306.86 314.80,307.02 315.50,307.17 316.20,307.06 316.90,306.93 317.60,306.58 318.30,307.03 319.00,307.02 319.70,306.81 320.40,306.75 321.10,306.90 321.80,306.66 322.50,306.89 323.20,306.58 323.90,306.58 324.60,306.71 325.30,306.46 326.00,306.66 326.70,306.72 327.40,306.42" stroke="#a0a0a0" stroke-width="1.8"/>
<path d="M35.50,307.35L36.20,307.15 36.90,307.34 37.60,307.31 38.30,307.23 39.00,307.24 39.70,307.08 40.40,307.25 41.10,307.26 41.80,307.64 42.50,307.57 43.20,307.22 43.90,307.57 44.60,307.50 45.30,307.43 46.00,307.57 46.70,307.64 47.40,307.45 48.10,307.51 48.80,307.60 49.50,307.44 50.20,307.63 50.90,307.61 51.60,307.53 52.30,307.53 53.00,307.72 53.70,307.83 54.40,307.76 55.10,307.60 55.80,307.86 56.50,307.79 57.20,307.87 57.90,307.98 58.60,307.68 59.30,307.81 60.00,307.76 60.70,307.73 61.40,308.17 62.10,308.02 62.80,307.62 63.50,307.96 64.20,307.81 64.90,308.07 65.60,307.91 66.30,307.87 67.00,307.91 67.70,307.93 68.40,307.86 69.10,307.81 69.80,307.80 70.50,307.88 71.20,307.60 71.90,307.75 72.60,307.70 73.30,307.61 74.00,307.76 74.70,307.42 75.40,307.52 76.10,307.38 76.80,307.51 77.50,307.25 78.20,307.22 78.90,307.15 79.60,306.73 80.30,306.92 81.00,306.61 81.70,306.55 82.40,306.43 83.10,306.42 83.80,306.24 84.50,306.21 85.20,305.76 85.90,305.42 86.60,305.13 87.30,304.98 88.00,304.74 88.70,304.09 89.40,303.38 90.10,302.88 90.80,302.22 91.50,301.55 92.20,300.79 92.90,299.87 93.60,299.36 94.30,298.73 95.00,297.63 95.70,296.15 96.40,295.20 97.10,293.30 97.80,291.86 98.50,289.38 99.20,286.68 99.90,284.36 100.60,281.36 101.30,279.07 102.00,276.79 102.70,274.53 103.40,272.80 104.10,270.58 104.80,269.19 105.50,267.29 106.20,265.50 106.90,263.86 107.60,262.96 108.30,261.56 109.00,259.80 109.70,258.97 110.40,257.50 111.10,256.21 111.80,254.99 112.50,253.68 113.20,252.68 113.90,251.16 114.60,249.50 115.30,248.82 116.00,247.25 116.70,245.52 117.40,244.25 118.10,242.74 118.80,241.47 119.50,240.08 120.20,238.55 120.90,236.84 121.60,235.24 122.30,234.01 123.00,232.22 123.70,231.18 124.40,228.92 125.10,227.75 125.80,226.01 126.50,224.24 127.20,223.26 127.90,221.37 128.60,219.51 129.30,218.10 130.00,216.93 130.70,214.58 131.40,213.90 132.10,212.13 132.80,210.30 133.50,209.57 134.20,208.43 134.90,206.66 135.60,205.22 136.30,204.80 137.00,203.43 137.70,200.94 138.40,200.07 139.10,198.78 139.80,197.38 140.50,195.40 141.20,195.66 141.90,193.85 142.60,192.59 143.30,192.29 144.00,189.57 144.70,188.69 145.40,187.68 146.10,185.82 146.80,184.85 147.50,184.47 148.20,182.69 148.90,182.92 149.60,179.93 150.30,179.96 151.00,177.55 151.70,178.19 152.40,176.89 153.10,178.49 153.80,177.32 154.50,176.71 155.20,178.03 155.90,177.48 156.60,176.57 157.30,174.86 158.00,173.91 158.70,175.50 159.40,175.09 160.10,174.75 160.80,175.27 161.50,173.95 162.20,177.98 162.90,175.39 163.60,176.43 164.30,178.36 165.00,176.37 165.70,179.73 166.40,180.31 167.10,179.58 167.80,179.42 168.50,180.72 169.20,179.96 169.90,183.80 170.60,183.01 171.30,182.76 172.00,183.11 172.70,184.95 173.40,186.21 174.10,184.30 174.80,185.39 175.50,184.95 176.20,187.31 176.90,187.35 177.60,189.26 178.30,188.07 179.00,188.38 179.70,188.79 180.40,190.40 181.10,189.70 181.80,191.92 182.50,192.55 183.20,193.12 183.90,193.92 184.60,195.83 185.30,197.17 186.00,197.20 186.70,198.75 187.40,200.49 188.10,201.05 188.80,202.91 189.50,204.46 190.20,206.77 190.90,208.71 191.60,210.49 192.30,212.34 193.00,214.08 193.70,216.12 194.40,218.15 195.10,220.42 195.80,221.92 196.50,223.56 197.20,225.61 197.90,227.30 198.60,228.79 199.30,230.70 200.00,233.01 200.70,235.08 201.40,236.95 202.10,239.07 202.80,240.67 203.50,242.36 204.20,243.37 204.90,244.97 205.60,246.12 206.30,247.07 207.00,248.60 207.70,249.78 208.40,250.66 209.10,252.52 209.80,253.37 210.50,254.81 211.20,256.33 211.90,257.93 212.60,259.33 213.30,260.65 214.00,262.29 214.70,263.52 215.40,265.03 216.10,266.48 216.80,267.47 217.50,268.39 218.20,269.93 218.90,271.08 219.60,272.49 220.30,273.68 221.00,274.64 221.70,275.80 222.40,277.07 223.10,278.17 223.80,278.93 224.50,280.45 225.20,281.28 225.90,282.23 226.60,283.20 227.30,283.90 228.00,284.92 228.70,285.93 229.40,286.72 230.10,287.38 230.80,287.97 231.50,288.57 232.20,289.56 232.90,290.06 233.60,290.51 234.30,290.81 235.00,291.56 235.70,291.92 236.40,292.92 237.10,293.23 237.80,293.54 238.50,294.06 239.20,294.87 239.90,295.13 240.60,295.13 241.30,295.70 242.00,295.90 242.70,296.18 243.40,296.83 244.10,297.50 244.80,297.90 245.50,298.79 246.20,300.78 246.90,302.05 247.60,301.17 248.30,299.60 249.00,299.33 249.70,300.17 250.40,300.22 251.10,300.73 251.80,300.81 252.50,301.30 253.20,301.24 253.90,301.69 254.60,302.11 255.30,302.26 256.00,302.26 256.70,302.71 257.40,302.70 258.10,302.94 258.80,304.14 259.50,305.74 260.20,306.22 260.90,304.99 261.60,304.53 262.30,304.38 263.00,304.32 263.70,304.21 264.40,304.85 265.10,304.96 265.80,305.02 266.50,304.78 267.20,304.93 267.90,305.44 268.60,305.52 269.30,305.58 270.00,305.56 270.70,305.77 271.40,305.71 272.10,305.84 272.80,305.84 273.50,306.10 274.20,306.08 274.90,306.37 275.60,306.40 276.30,306.22 277.00,306.71 277.70,306.28 278.40,306.59 279.10,306.73 279.80,306.80 280.50,306.28 281.20,306.81 281.90,306.88 282.60,306.94 283.30,306.40 284.00,306.65 284.70,306.77 285.40,306.74 286.10,307.05 286.80,306.75 287.50,307.08 288.20,306.99 288.90,306.68 289.60,306.78 290.30,306.88 291.00,306.98 291.70,307.14 292.40,306.95 293.10,307.14 293.80,306.74 294.50,306.66 295.20,306.95 295.90,307.07 296.60,306.94 297.30,306.84 298.00,307.07 298.70,307.31 299.40,306.98 300.10,306.88 300.80,306.86 301.50,307.32 302.20,306.99 302.90,307.10 303.60,307.20 304.30,307.17 305.00,306.85 305.70,307.15 306.40,307.14 307.10,307.08 307.80,307.16 308.50,306.91 309.20,306.99 309.90,306.91 310.60,307.12 311.30,306.89 312.00,307.06 312.70,306.81 313.40,306.96 314.10,306.91 314.80,306.94 315.50,306.97 316.20,306.91 316.90,306.89 317.60,306.57 318.30,307.07 319.00,306.78 319.70,306.82 320.40,306.71 321.10,306.98 321.80,306.65 322.50,306.86 323.20,306.95 323.90,307.00 324.60,306.91 325.30,306.79 326.00,306.47 326.70,306.85 327.40,306.81" stroke="#ff0000" stroke-width="2"/>
</g>
<path d="M35,7L35,318.7" stroke="#8a8a8a" stroke-width="1"/>
<path d="M328,7L328,318.7" stroke="#8a8a8a" stroke-width="1"/>
<path d="M34.5,7.5L328.5,7.5" stroke="#6e6e6e" stroke-width="1"/>
<path d="M35,160.5L328,160.5" stroke="#666" stroke-width="1"/>
<path d="M35,314L328,314" stroke="#8a8a8a" stroke-width="1"/>
<path d="M35.00,314L35.00,318.7" stroke="#8a8a8a" stroke-width="1"/>
<path d="M83.83,314L83.83,316.7" stroke="#666" stroke-width="1"/>
<path d="M83.83,160.5L83.83,157.9" stroke="#555" stroke-width="1"/>
<path d="M132.67,314L132.67,318.7" stroke="#8a8a8a" stroke-width="1"/>
<path d="M132.67,160.5L132.67,155.8" stroke="#666" stroke-width="1"/>
<path d="M181.50,314L181.50,316.7" stroke="#666" stroke-width="1"/>
<path d="M181.50,160.5L181.50,157.9" stroke="#555" stroke-width="1"/>
<path d="M230.33,314L230.33,318.7" stroke="#8a8a8a" stroke-width="1"/>
<path d="M230.33,160.5L230.33,155.8" stroke="#666" stroke-width="1"/>
<path d="M279.17,314L279.17,316.7" stroke="#666" stroke-width="1"/>
<path d="M279.17,160.5L279.17,157.9" stroke="#555" stroke-width="1"/>
<path d="M328.00,314L328.00,318.7" stroke="#8a8a8a" stroke-width="1"/>
<path d="M391.5,7.5L391.5,319.7" stroke="#555" stroke-width="1"/>
<path d="M684.5,7.5L684.5,315.5" stroke="#666" stroke-width="1"/>
<path d="M386.3,8L685,8" stroke="#9a9a9a" stroke-width="1"/>
<path d="M391.5,315.3L685,315.3" stroke="#6a6a6a" stroke-width="1"/>
<path d="M391.30,315.3L391.30,319.7" stroke="#888" stroke-width="1"/>
<path d="M413.88,315.3L413.88,317.8" stroke="#555" stroke-width="1"/>
<path d="M436.47,315.3L436.47,319.7" stroke="#888" stroke-width="1"/>
<path d="M459.05,315.3L459.05,317.8" stroke="#555" stroke-width="1"/>
<path d="M481.64,315.3L481.64,319.7" stroke="#888" stroke-width="1"/>
<path d="M504.23,315.3L504.23,317.8" stroke="#555" stroke-width="1"/>
<path d="M526.81,315.3L526.81,319.7" stroke="#888" stroke-width="1"/>
<path d="M549.39,315.3L549.39,317.8" stroke="#555" stroke-width="1"/>
<path d="M571.98,315.3L571.98,319.7" stroke="#888" stroke-width="1"/>
<path d="M594.57,315.3L594.57,317.8" stroke="#555" stroke-width="1"/>
<path d="M617.15,315.3L617.15,319.7" stroke="#888" stroke-width="1"/>
<path d="M639.74,315.3L639.74,317.8" stroke="#555" stroke-width="1"/>
<path d="M662.32,315.3L662.32,319.7" stroke="#888" stroke-width="1"/>
<path d="M391.5,315.53L389,315.53" stroke="#555" stroke-width="1"/>
<path d="M391.5,300.08L389,300.08" stroke="#555" stroke-width="1"/>
<path d="M391.5,286.44L389,286.44" stroke="#555" stroke-width="1"/>
<path d="M391.5,194.03L389,194.03" stroke="#555" stroke-width="1"/>
<path d="M391.5,147.10L389,147.10" stroke="#555" stroke-width="1"/>
<path d="M391.5,113.80L389,113.80" stroke="#555" stroke-width="1"/>
<path d="M391.5,87.97L389,87.97" stroke="#555" stroke-width="1"/>
<path d="M391.5,66.87L389,66.87" stroke="#555" stroke-width="1"/>
<path d="M391.5,49.03L389,49.03" stroke="#555" stroke-width="1"/>
<path d="M391.5,33.58L389,33.58" stroke="#555" stroke-width="1"/>
<path d="M391.5,19.94L389,19.94" stroke="#555" stroke-width="1"/>
<path d="M391.5,274.25L386.3,274.25" stroke="#888" stroke-width="1"/>
<path d="M391.5,7.75L386.3,7.75" stroke="#888" stroke-width="1"/>
<path d="M398.10,153.28L571.30,131.25" stroke="#000000" stroke-width="2" fill="none" stroke-dasharray="8.3 9.7"/>
<path d="M398.10,158.35L571.30,143.41" stroke="#ff8000" stroke-width="2" fill="none" stroke-dasharray="8.3 9.7"/>
<path d="M398.10,165.41L571.30,152.02" stroke="#0000ff" stroke-width="2" fill="none" stroke-dasharray="8.3 9.7"/>
<path d="M398.10,184.30L571.30,166.58" stroke="#8000ff" stroke-width="2" fill="none" stroke-dasharray="8.3 9.7"/>
<path d="M398.10,196.69L524.10,191.34" stroke="#ff0000" stroke-width="2" fill="none" stroke-dasharray="8.3 9.7" stroke-dashoffset="3"/>
<rect x="393.30" y="147.80" width="9.60" height="9.60" fill="#000000"/>
<rect x="432.70" y="144.20" width="9.60" height="9.60" fill="#000000"/>
<rect x="474.50" y="139.00" width="9.60" height="9.60" fill="#000000"/>
<rect x="519.30" y="131.20" width="9.60" height="9.60" fill="#000000"/>
<rect x="566.50" y="126.80" width="9.60" height="9.60" fill="#000000"/>
<circle cx="398.10" cy="167.90" r="5.3" fill="#0000ff"/>
<circle cx="437.50" cy="159.50" r="5.3" fill="#0000ff"/>
<circle cx="479.30" cy="158.70" r="5.3" fill="#0000ff"/>
<circle cx="524.10" cy="155.50" r="5.3" fill="#0000ff"/>
<circle cx="571.30" cy="153.00" r="5.3" fill="#0000ff"/>
<path d="M398.10,152.20L404.20,162.80L392.00,162.80Z" fill="#ff8000"/>
<path d="M437.50,148.20L443.60,158.80L431.40,158.80Z" fill="#ff8000"/>
<path d="M479.30,142.10L485.40,152.70L473.20,152.70Z" fill="#ff8000"/>
<path d="M524.10,140.40L530.20,151.00L518.00,151.00Z" fill="#ff8000"/>
<path d="M571.30,137.30L577.40,147.90L565.20,147.90Z" fill="#ff8000"/>
<path d="M392.20,181.35L404.00,181.35L398.10,191.85Z" fill="#8000ff"/>
<path d="M431.60,175.95L443.40,175.95L437.50,186.45Z" fill="#8000ff"/>
<path d="M473.40,173.75L485.20,173.75L479.30,184.25Z" fill="#8000ff"/>
<path d="M518.20,165.75L530.00,165.75L524.10,176.25Z" fill="#8000ff"/>
<path d="M565.40,164.25L577.20,164.25L571.30,174.75Z" fill="#8000ff"/>
<path d="M393.60,190.80L404.60,196.90L393.60,203.00Z" fill="#ff0000"/>
<path d="M433.00,190.30L444.00,196.40L433.00,202.50Z" fill="#ff0000"/>
<path d="M474.80,183.90L485.80,190.00L474.80,196.10Z" fill="#ff0000"/>
<path d="M519.60,186.90L530.60,193.00L519.60,199.10Z" fill="#ff0000"/>
<text x="-0.60" y="7.80" font-size="14" fill="#000" text-anchor="start" font-weight="bold">a</text>
<text x="-0.60" y="172.50" font-size="14" fill="#000" text-anchor="start" font-weight="bold">b</text>
<text x="345.90" y="7.90" font-size="13" fill="#000" text-anchor="start" font-weight="bold">c</text>
<text x="35.00" y="335.20" font-size="12.4" fill="#1a1a1a" text-anchor="middle" >4,000</text>
<text x="132.67" y="335.20" font-size="12.4" fill="#1a1a1a" text-anchor="middle" >3,500</text>
<text x="230.33" y="335.20" font-size="12.4" fill="#1a1a1a" text-anchor="middle" >3,000</text>
<text x="328.00" y="335.20" font-size="12.4" fill="#1a1a1a" text-anchor="middle" >2,500</text>
<text x="181.2" y="357" font-size="12.4" fill="#1a1a1a" text-anchor="middle">Wavenumber (cm<tspan font-size="8.5" dy="-5">−1</tspan><tspan dy="5">)</tspan></text>
<text x="391.30" y="335.60" font-size="12.4" fill="#1a1a1a" text-anchor="middle" >2.9</text>
<text x="436.47" y="335.60" font-size="12.4" fill="#1a1a1a" text-anchor="middle" >3.0</text>
<text x="481.64" y="335.60" font-size="12.4" fill="#1a1a1a" text-anchor="middle" >3.1</text>
<text x="526.81" y="335.60" font-size="12.4" fill="#1a1a1a" text-anchor="middle" >3.2</text>
<text x="571.98" y="335.60" font-size="12.4" fill="#1a1a1a" text-anchor="middle" >3.3</text>
<text x="617.15" y="335.60" font-size="12.4" fill="#1a1a1a" text-anchor="middle" >3.4</text>
<text x="662.32" y="335.60" font-size="12.4" fill="#1a1a1a" text-anchor="middle" >3.5</text>
<text x="538.4" y="358.4" font-size="12.4" fill="#1a1a1a" text-anchor="middle">1,000/<tspan font-style="italic">T</tspan> (K<tspan font-size="8.5" dy="-5">−1</tspan><tspan dy="5">)</tspan></text>
<text x="381.50" y="11.90" font-size="12.4" fill="#1a1a1a" text-anchor="end" >10</text>
<text x="381.20" y="278.30" font-size="12.4" fill="#1a1a1a" text-anchor="end" >1</text>
<text transform="translate(10.5,76.5) rotate(-90)" x="0" y="0" font-size="12.4" fill="#1a1a1a" text-anchor="middle">Absorbance</text>
<text transform="translate(25.2,76.3) rotate(-90)" x="0" y="0" font-size="12.4" fill="#1a1a1a" text-anchor="middle">difference (a.u.)</text>
<text transform="translate(25,236.3) rotate(-90)" x="0" y="0" font-size="12.4" fill="#1a1a1a" text-anchor="middle">Absorbance (a.u.)</text>
<g transform="translate(356,161) rotate(-90)" fill="none" stroke="#1a1a1a" stroke-width="0.9"><path d="M-12.2,-8.4L-14.8,-3.0L-12.2,2.4"/><path d="M10.9,-8.4L13.5,-3.0L10.9,2.4"/></g>
<g transform="translate(356,161) rotate(-90)"><text x="-10.2" y="0" font-size="12.4" fill="#1a1a1a" font-style="italic">N</text><text x="-1.0" y="4.0" font-size="8.6" fill="#1a1a1a">HB</text></g>
<text x="190.00" y="69.40" font-size="12.4" fill="#0000ff" text-anchor="start" >303 K</text>
<text x="228.80" y="130.80" font-size="12.4" fill="#ff0000" text-anchor="start" >343 K</text>
<text x="220.80" y="243.00" font-size="12.4" fill="#0000ff" text-anchor="start" >303 K</text>
<text x="149.50" y="280.70" font-size="12.4" fill="#ff0000" text-anchor="start" >343 K</text>
<text x="584.30" y="130.80" font-size="12.4" fill="#000" text-anchor="start" >Bulk H<tspan font-size="8.5" dy="3">2</tspan><tspan dy="-3">O</tspan></text>
<text x="584.60" y="146.30" font-size="12.4" fill="#ff8000" text-anchor="start" >Ti-FAU-OH</text>
<text x="584.60" y="159.20" font-size="12.4" fill="#0000ff" text-anchor="start" >Ti-BEA-OH</text>
<text x="584.60" y="173.80" font-size="12.4" fill="#8000ff" text-anchor="start" >Ti-MFI-OH</text>
<text x="583.60" y="193.20" font-size="12.4" fill="#ff0000" text-anchor="start" >Si-CDO-OH</text>
<path d="M209.5,74 Q212.5,106 235.5,113.2" fill="none" stroke="#000" stroke-width="1"/>
<path d="M240.5,116 L233.2,115.6 L236.6,110.2 Z" fill="#000"/>
<path d="M228.6,248.3 Q218,268.5 194,273.6" fill="none" stroke="#000" stroke-width="1"/>
<path d="M188.5,275.2 L195.6,270.6 L196,277.2 Z" fill="#000"/>
</svg></body></html>
